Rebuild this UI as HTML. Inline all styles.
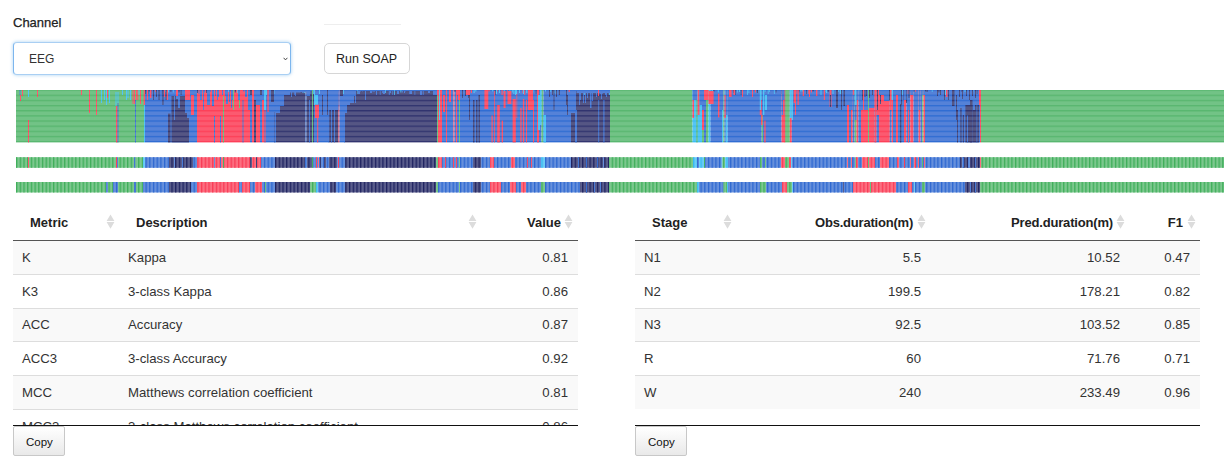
<!DOCTYPE html>
<html><head><meta charset="utf-8">
<style>
html,body{margin:0;padding:0;background:#fff;}
body{width:1224px;height:468px;overflow:hidden;position:relative;font-family:"Liberation Sans",Arial,sans-serif;color:#333;font-size:13px;}
.a{position:absolute;white-space:nowrap;}
.lbl{left:13px;top:14.5px;font-size:13px;line-height:16px;color:#222;-webkit-text-stroke:0.25px #222;}
.sel{left:13px;top:42px;width:276px;height:31px;border:1px solid #a9cff3;border-left-color:#7db6ee;border-right-color:#7db6ee;border-radius:4px;box-shadow:0 0 3px 1px rgba(102,175,233,0.35);background:#fff;}
.sel .t{position:absolute;left:15px;top:9px;font-size:12px;line-height:15px;color:#333;}
.sel .chev{position:absolute;left:269px;top:14px;}
.hr{left:324px;top:24px;width:77px;height:1px;background:#eee;}
.btn{left:324px;top:43px;width:84px;height:29px;border:1px solid #d6d6d6;border-radius:5px;background:#fff;}
.btn .t{position:absolute;left:11px;top:8px;font-size:12.5px;line-height:15px;color:#222;}
.tbl{position:absolute;top:200px;}
.th{position:absolute;top:15px;font-weight:bold;font-size:13px;line-height:16px;color:#222;}
.hline{position:absolute;left:0;right:0;top:40px;height:1px;background:#555;}
.row{position:absolute;left:0;right:0;}
.row.g{background:#f9f9f9;}
.row.b{border-top:1px solid #ddd;}
.td{position:absolute;font-size:13.2px;line-height:16px;color:#333;}
.bline{position:absolute;left:0;right:0;top:225px;height:1px;background:#111;}
.sort{position:absolute;top:14px;width:9px;height:15px;}
.copy{position:absolute;top:226px;width:50px;height:28px;border:1px solid #c8c8c8;border-radius:2px;background:linear-gradient(#fff,#e9e9e9);}
.copy .t{position:absolute;left:12px;top:8px;font-size:11.5px;line-height:15px;color:#111;}
.clip{position:absolute;left:0;right:0;top:41px;height:184px;overflow:hidden;}
</style></head>
<body>
<div class="a lbl">Channel</div>
<div class="a sel"><span class="t">EEG</span><svg class="chev" width="5" height="4" viewBox="0 0 5 4"><path d="M0.6 0.8 L2.5 2.9 L4.4 0.8" fill="none" stroke="#333" stroke-width="0.9"/></svg></div>
<div class="a hr"></div>
<div class="a btn"><span class="t">Run SOAP</span></div>

<div class="a" style="left:0;top:0;width:1224px;height:200px;"><svg class="hyp" width="1224" height="200" viewBox="0 0 1224 200"><defs><pattern id="hl" x="0" y="89.5" width="8" height="5.15" patternUnits="userSpaceOnUse"><rect x="0" y="0" width="8" height="1.3" fill="#fff"/></pattern><mask id="hm" maskUnits="userSpaceOnUse" x="0" y="0" width="1224" height="200"><rect x="0" y="90" width="1224" height="52.4" fill="url(#hl)"/></mask><pattern id="vl" x="16" y="0" width="3.7" height="10" patternUnits="userSpaceOnUse"><rect x="0" y="0" width="1.3" height="10" fill="#fff"/></pattern><mask id="vm" maskUnits="userSpaceOnUse" x="0" y="0" width="1224" height="200"><rect x="0" y="150" width="1224" height="50" fill="url(#vl)"/></mask></defs><g><rect x="16" y="90" width="128" height="52.4" fill="#72c386"/><rect x="144" y="90" width="1" height="52.4" fill="#55c5f5"/><rect x="145" y="90" width="52" height="52.4" fill="#5582d8"/><rect x="197" y="90" width="53" height="52.4" fill="#fc5a70"/><rect x="250" y="90" width="2" height="52.4" fill="#5582d8"/><rect x="252" y="90" width="2" height="52.4" fill="#fc5a70"/><rect x="254" y="90" width="2" height="52.4" fill="#555684"/><rect x="256" y="90" width="4" height="52.4" fill="#fc5a70"/><rect x="260" y="90" width="2" height="52.4" fill="#5582d8"/><rect x="262" y="90" width="2" height="52.4" fill="#fc5a70"/><rect x="264" y="90" width="2" height="52.4" fill="#5582d8"/><rect x="266" y="90" width="2" height="52.4" fill="#5582d8"/><rect x="268" y="90" width="8" height="52.4" fill="#5582d8"/><rect x="276" y="90" width="29.5" height="52.4" fill="#555684"/><rect x="305.5" y="90" width="1" height="52.4" fill="#5582d8"/><rect x="306.5" y="90" width="5.5" height="52.4" fill="#555684"/><rect x="312" y="90" width="1" height="52.4" fill="#72c386"/><rect x="313" y="90" width="1" height="52.4" fill="#555684"/><rect x="314" y="90" width="5" height="52.4" fill="#5582d8"/><rect x="319" y="90" width="10" height="52.4" fill="#5582d8"/><rect x="329" y="90" width="9.5" height="52.4" fill="#555684"/><rect x="338.5" y="90" width="1" height="52.4" fill="#fc5a70"/><rect x="339.5" y="90" width="5.5" height="52.4" fill="#5582d8"/><rect x="345" y="90" width="92" height="52.4" fill="#555684"/><rect x="437" y="90" width="1" height="52.4" fill="#72c386"/><rect x="438" y="90" width="4" height="52.4" fill="#fc5a70"/><rect x="442" y="90" width="4" height="52.4" fill="#5582d8"/><rect x="446" y="90" width="1" height="52.4" fill="#fc5a70"/><rect x="447" y="90" width="6.5" height="52.4" fill="#5582d8"/><rect x="453.5" y="90" width="1" height="52.4" fill="#fc5a70"/><rect x="454.5" y="90" width="1.5" height="52.4" fill="#5582d8"/><rect x="456" y="90" width="1" height="52.4" fill="#fc5a70"/><rect x="457" y="90" width="2" height="52.4" fill="#5582d8"/><rect x="459" y="90" width="1" height="52.4" fill="#72c386"/><rect x="460" y="90" width="81.5" height="52.4" fill="#5582d8"/><rect x="541.5" y="90" width="2" height="52.4" fill="#72c386"/><rect x="543.5" y="90" width="2.5" height="52.4" fill="#5582d8"/><rect x="546" y="90" width="25" height="52.4" fill="#5582d8"/><rect x="571" y="90" width="39" height="52.4" fill="#555684"/><rect x="610" y="90" width="82.5" height="52.4" fill="#72c386"/><rect x="692.5" y="90" width="9.5" height="52.4" fill="#55c5f5"/><rect x="702" y="90" width="2" height="52.4" fill="#72c386"/><rect x="704" y="90" width="2" height="52.4" fill="#5582d8"/><rect x="706" y="90" width="2.5" height="52.4" fill="#72c386"/><rect x="708.5" y="90" width="2" height="52.4" fill="#55c5f5"/><rect x="710.5" y="90" width="11.5" height="52.4" fill="#5582d8"/><rect x="722" y="90" width="1.3" height="52.4" fill="#55c5f5"/><rect x="723.3" y="90" width="1.2" height="52.4" fill="#72c386"/><rect x="724.5" y="90" width="1.3" height="52.4" fill="#5582d8"/><rect x="725.8" y="90" width="1.9" height="52.4" fill="#55c5f5"/><rect x="727.7" y="90" width="34" height="52.4" fill="#5582d8"/><rect x="761.7" y="90" width="1.3" height="52.4" fill="#72c386"/><rect x="763" y="90" width="18.6" height="52.4" fill="#5582d8"/><rect x="781.6" y="90" width="3.4" height="52.4" fill="#fc5a70"/><rect x="785" y="90" width="4.8" height="52.4" fill="#72c386"/><rect x="789.8" y="90" width="2" height="52.4" fill="#fc5a70"/><rect x="791.8" y="90" width="55.2" height="52.4" fill="#5582d8"/><rect x="847" y="90" width="2" height="52.4" fill="#fc5a70"/><rect x="849" y="90" width="2" height="52.4" fill="#5582d8"/><rect x="851" y="90" width="1.7" height="52.4" fill="#fc5a70"/><rect x="852.7" y="90" width="1.9" height="52.4" fill="#5582d8"/><rect x="854.6" y="90" width="1.9" height="52.4" fill="#72c386"/><rect x="856.5" y="90" width="1.9" height="52.4" fill="#fc5a70"/><rect x="858.4" y="90" width="2.6" height="52.4" fill="#5582d8"/><rect x="861" y="90" width="7" height="52.4" fill="#fc5a70"/><rect x="868" y="90" width="1" height="52.4" fill="#72c386"/><rect x="869" y="90" width="5.5" height="52.4" fill="#fc5a70"/><rect x="874.5" y="90" width="1.9" height="52.4" fill="#5582d8"/><rect x="876.4" y="90" width="2.6" height="52.4" fill="#5582d8"/><rect x="879" y="90" width="10.8" height="52.4" fill="#fc5a70"/><rect x="889.8" y="90" width="1.9" height="52.4" fill="#5582d8"/><rect x="891.7" y="90" width="1.3" height="52.4" fill="#fc5a70"/><rect x="893" y="90" width="3" height="52.4" fill="#5582d8"/><rect x="896" y="90" width="2" height="52.4" fill="#fc5a70"/><rect x="898" y="90" width="6" height="52.4" fill="#5582d8"/><rect x="904" y="90" width="2.4" height="52.4" fill="#fc5a70"/><rect x="906.4" y="90" width="3.9" height="52.4" fill="#5582d8"/><rect x="910.3" y="90" width="3.2" height="52.4" fill="#fc5a70"/><rect x="913.5" y="90" width="5.1" height="52.4" fill="#5582d8"/><rect x="918.6" y="90" width="1.9" height="52.4" fill="#fc5a70"/><rect x="920.5" y="90" width="1.7" height="52.4" fill="#5582d8"/><rect x="922.2" y="90" width="1.3" height="52.4" fill="#72c386"/><rect x="923.5" y="90" width="1.5" height="52.4" fill="#fc5a70"/><rect x="925" y="90" width="55" height="52.4" fill="#5582d8"/><rect x="980" y="90" width="1" height="52.4" fill="#fc5a70"/><rect x="981" y="90" width="243" height="52.4" fill="#72c386"/><rect x="145" y="90" width="1.2" height="4" fill="#555684"/><rect x="147.2" y="90" width="1.2" height="4" fill="#555684"/><rect x="148.9" y="90" width="0.8" height="1.5" fill="#555684"/><rect x="150.2" y="90" width="1.2" height="4" fill="#555684"/><rect x="155.3" y="90" width="0.8" height="2" fill="#fc5a70"/><rect x="161.9" y="90" width="0.8" height="4" fill="#555684"/><rect x="165" y="90" width="1.2" height="2" fill="#55c5f5"/><rect x="167.7" y="90" width="1.2" height="2.5" fill="#55c5f5"/><rect x="170.4" y="90" width="1" height="2" fill="#555684"/><rect x="172.9" y="90" width="0.8" height="2.5" fill="#55c5f5"/><rect x="178.4" y="90" width="1.2" height="2.5" fill="#555684"/><rect x="180.6" y="90" width="1" height="5" fill="#555684"/><rect x="197" y="90" width="1" height="3" fill="#555684"/><rect x="198.5" y="90" width="1" height="4" fill="#5582d8"/><rect x="200.5" y="90" width="0.8" height="2.5" fill="#5582d8"/><rect x="202.8" y="90" width="0.8" height="3" fill="#5582d8"/><rect x="204.1" y="90" width="1" height="2.5" fill="#5582d8"/><rect x="206.1" y="90" width="1.2" height="3" fill="#555684"/><rect x="210.3" y="90" width="0.8" height="2" fill="#5582d8"/><rect x="213.1" y="90" width="1" height="2" fill="#55c5f5"/><rect x="224.9" y="90" width="1.2" height="3" fill="#55c5f5"/><rect x="228.1" y="90" width="0.8" height="2" fill="#55c5f5"/><rect x="229.4" y="90" width="0.8" height="1.5" fill="#5582d8"/><rect x="230.7" y="90" width="1.2" height="1.5" fill="#555684"/><rect x="233.4" y="90" width="0.8" height="2" fill="#55c5f5"/><rect x="234.7" y="90" width="1.2" height="2.5" fill="#555684"/><rect x="236.9" y="90" width="0.8" height="3" fill="#55c5f5"/><rect x="238.7" y="90" width="1" height="2" fill="#5582d8"/><rect x="243.2" y="90" width="1.2" height="1.5" fill="#5582d8"/><rect x="245.9" y="90" width="1" height="4" fill="#5582d8"/><rect x="254" y="90" width="2" height="1" fill="#5582d8"/><rect x="266" y="90" width="1" height="5" fill="#55c5f5"/><rect x="272.5" y="90" width="0.8" height="2" fill="#55c5f5"/><rect x="273.8" y="90" width="1" height="4" fill="#55c5f5"/><rect x="276" y="90" width="29.5" height="1" fill="#5582d8"/><rect x="276" y="90" width="1.2" height="5" fill="#5582d8"/><rect x="280.4" y="90" width="0.8" height="5" fill="#5582d8"/><rect x="281.7" y="90" width="1.2" height="3" fill="#5582d8"/><rect x="284.4" y="90" width="0.8" height="2" fill="#5582d8"/><rect x="294" y="90" width="0.8" height="5" fill="#5582d8"/><rect x="299.8" y="90" width="0.8" height="2.5" fill="#5582d8"/><rect x="302.1" y="90" width="1" height="3" fill="#5582d8"/><rect x="303.6" y="90" width="1.2" height="3" fill="#55c5f5"/><rect x="306.5" y="90" width="5.5" height="1" fill="#5582d8"/><rect x="306.5" y="90" width="1.2" height="3" fill="#5582d8"/><rect x="310.5" y="90" width="0.8" height="4" fill="#5582d8"/><rect x="313" y="90" width="1" height="1" fill="#5582d8"/><rect x="313" y="90" width="0.8" height="4" fill="#55c5f5"/><rect x="314" y="90" width="1.2" height="2" fill="#fc5a70"/><rect x="319" y="90" width="1" height="4" fill="#55c5f5"/><rect x="329" y="90" width="9.5" height="1" fill="#5582d8"/><rect x="330.7" y="90" width="1" height="1.5" fill="#55c5f5"/><rect x="332.7" y="90" width="1" height="2" fill="#55c5f5"/><rect x="337.8" y="90" width="0.7" height="2.5" fill="#5582d8"/><rect x="342.7" y="90" width="1.2" height="4" fill="#55c5f5"/><rect x="345" y="90" width="92" height="1" fill="#5582d8"/><rect x="345" y="90" width="1" height="2.5" fill="#5582d8"/><rect x="347.5" y="90" width="1" height="4" fill="#55c5f5"/><rect x="349.5" y="90" width="1.2" height="2.5" fill="#5582d8"/><rect x="352.2" y="90" width="0.8" height="2" fill="#5582d8"/><rect x="353.5" y="90" width="1" height="2" fill="#5582d8"/><rect x="357.5" y="90" width="1" height="4" fill="#55c5f5"/><rect x="360" y="90" width="1" height="1.5" fill="#5582d8"/><rect x="362" y="90" width="0.8" height="1.5" fill="#5582d8"/><rect x="365.1" y="90" width="0.8" height="1.5" fill="#55c5f5"/><rect x="371.6" y="90" width="0.8" height="2" fill="#5582d8"/><rect x="373.4" y="90" width="1.2" height="2" fill="#5582d8"/><rect x="379.8" y="90" width="0.8" height="5" fill="#5582d8"/><rect x="382.1" y="90" width="1" height="3" fill="#5582d8"/><rect x="384.6" y="90" width="1.2" height="3" fill="#55c5f5"/><rect x="388.8" y="90" width="1" height="5" fill="#5582d8"/><rect x="392.3" y="90" width="0.8" height="5" fill="#5582d8"/><rect x="394.1" y="90" width="0.8" height="5" fill="#55c5f5"/><rect x="400.4" y="90" width="1" height="2.5" fill="#55c5f5"/><rect x="401.9" y="90" width="1" height="2.5" fill="#5582d8"/><rect x="405.2" y="90" width="0.8" height="1.5" fill="#5582d8"/><rect x="409.3" y="90" width="1.2" height="4" fill="#5582d8"/><rect x="414.5" y="90" width="0.8" height="5" fill="#5582d8"/><rect x="422.7" y="90" width="1" height="5" fill="#5582d8"/><rect x="438" y="90" width="0.8" height="1.5" fill="#5582d8"/><rect x="454.5" y="90" width="1" height="2" fill="#555684"/><rect x="457" y="90" width="1" height="5" fill="#fc5a70"/><rect x="470.8" y="90" width="1.2" height="3" fill="#fc5a70"/><rect x="473.5" y="90" width="1.2" height="3" fill="#55c5f5"/><rect x="475.2" y="90" width="1.2" height="1.5" fill="#55c5f5"/><rect x="488.5" y="90" width="1.2" height="1.5" fill="#fc5a70"/><rect x="492.2" y="90" width="1" height="1.5" fill="#55c5f5"/><rect x="494.7" y="90" width="1" height="5" fill="#555684"/><rect x="496.7" y="90" width="1" height="1.5" fill="#fc5a70"/><rect x="501.5" y="90" width="1.2" height="5" fill="#fc5a70"/><rect x="503.7" y="90" width="1" height="3" fill="#55c5f5"/><rect x="507.2" y="90" width="0.8" height="1.5" fill="#fc5a70"/><rect x="509.5" y="90" width="0.8" height="2.5" fill="#55c5f5"/><rect x="511.8" y="90" width="1" height="2.5" fill="#55c5f5"/><rect x="513.3" y="90" width="1.2" height="4" fill="#55c5f5"/><rect x="515" y="90" width="1.2" height="5" fill="#55c5f5"/><rect x="522.4" y="90" width="0.8" height="3" fill="#fc5a70"/><rect x="524.2" y="90" width="1" height="5" fill="#fc5a70"/><rect x="526.2" y="90" width="1.2" height="3" fill="#55c5f5"/><rect x="528.9" y="90" width="1" height="5" fill="#555684"/><rect x="532.2" y="90" width="1.2" height="2.5" fill="#55c5f5"/><rect x="535.7" y="90" width="0.8" height="4" fill="#555684"/><rect x="537.5" y="90" width="0.8" height="4" fill="#555684"/><rect x="545" y="90" width="1" height="1.5" fill="#55c5f5"/><rect x="550.4" y="90" width="0.8" height="2" fill="#55c5f5"/><rect x="552.2" y="90" width="1.2" height="2.5" fill="#555684"/><rect x="553.9" y="90" width="0.8" height="3" fill="#55c5f5"/><rect x="555.7" y="90" width="0.8" height="4" fill="#55c5f5"/><rect x="558.8" y="90" width="0.8" height="5" fill="#555684"/><rect x="568.6" y="90" width="1.2" height="2" fill="#fc5a70"/><rect x="571" y="90" width="39" height="1" fill="#5582d8"/><rect x="571" y="90" width="1.2" height="1.5" fill="#5582d8"/><rect x="575.2" y="90" width="0.8" height="2" fill="#5582d8"/><rect x="576.5" y="90" width="1.2" height="3" fill="#5582d8"/><rect x="582.9" y="90" width="0.8" height="3" fill="#5582d8"/><rect x="584.2" y="90" width="0.8" height="5" fill="#55c5f5"/><rect x="585.5" y="90" width="1" height="3" fill="#5582d8"/><rect x="587" y="90" width="1" height="2.5" fill="#55c5f5"/><rect x="589" y="90" width="1.2" height="1.5" fill="#5582d8"/><rect x="591.7" y="90" width="1.2" height="3" fill="#5582d8"/><rect x="593.9" y="90" width="0.8" height="2" fill="#5582d8"/><rect x="597.5" y="90" width="1.2" height="2" fill="#55c5f5"/><rect x="599.7" y="90" width="1.2" height="4" fill="#5582d8"/><rect x="601.9" y="90" width="0.8" height="4" fill="#5582d8"/><rect x="605" y="90" width="1" height="5" fill="#5582d8"/><rect x="608.8" y="90" width="1" height="5" fill="#55c5f5"/><rect x="696.5" y="90" width="0.8" height="1.5" fill="#72c386"/><rect x="697.8" y="90" width="1" height="1.5" fill="#5582d8"/><rect x="704" y="90" width="1" height="5" fill="#55c5f5"/><rect x="710.5" y="90" width="0.8" height="5" fill="#55c5f5"/><rect x="711.8" y="90" width="1.2" height="5" fill="#55c5f5"/><rect x="713.5" y="90" width="1" height="1.5" fill="#555684"/><rect x="717.8" y="90" width="1" height="2.5" fill="#55c5f5"/><rect x="733" y="90" width="1" height="3" fill="#555684"/><rect x="734.5" y="90" width="1.2" height="5" fill="#555684"/><rect x="737.2" y="90" width="0.8" height="2.5" fill="#55c5f5"/><rect x="739" y="90" width="1.2" height="2" fill="#55c5f5"/><rect x="740.7" y="90" width="0.8" height="5" fill="#555684"/><rect x="747.2" y="90" width="0.8" height="5" fill="#55c5f5"/><rect x="748.5" y="90" width="0.8" height="3" fill="#55c5f5"/><rect x="754.9" y="90" width="1" height="2.5" fill="#fc5a70"/><rect x="756.9" y="90" width="1.2" height="3" fill="#555684"/><rect x="758.6" y="90" width="0.8" height="2.5" fill="#55c5f5"/><rect x="759.9" y="90" width="1" height="2.5" fill="#555684"/><rect x="763" y="90" width="1.2" height="1.5" fill="#55c5f5"/><rect x="764.7" y="90" width="0.8" height="2" fill="#55c5f5"/><rect x="767.8" y="90" width="0.8" height="4" fill="#55c5f5"/><rect x="769.1" y="90" width="0.8" height="2" fill="#55c5f5"/><rect x="773.9" y="90" width="0.8" height="4" fill="#55c5f5"/><rect x="775.7" y="90" width="0.8" height="2.5" fill="#555684"/><rect x="781.6" y="90" width="1.2" height="4" fill="#555684"/><rect x="783.3" y="90" width="0.8" height="3" fill="#55c5f5"/><rect x="789.8" y="90" width="1" height="3" fill="#5582d8"/><rect x="791.8" y="90" width="1.2" height="2" fill="#55c5f5"/><rect x="794.5" y="90" width="1" height="2.5" fill="#fc5a70"/><rect x="796.5" y="90" width="0.8" height="4" fill="#fc5a70"/><rect x="798.3" y="90" width="1" height="2.5" fill="#555684"/><rect x="800.3" y="90" width="1.2" height="1.5" fill="#55c5f5"/><rect x="802" y="90" width="1" height="1.5" fill="#55c5f5"/><rect x="806" y="90" width="0.8" height="4" fill="#555684"/><rect x="808.3" y="90" width="1" height="4" fill="#fc5a70"/><rect x="810.8" y="90" width="1.2" height="2.5" fill="#fc5a70"/><rect x="812.5" y="90" width="1.2" height="1.5" fill="#555684"/><rect x="816.2" y="90" width="1" height="1.5" fill="#55c5f5"/><rect x="820.5" y="90" width="1" height="5" fill="#55c5f5"/><rect x="824.3" y="90" width="1.2" height="2" fill="#55c5f5"/><rect x="826" y="90" width="1.2" height="3" fill="#55c5f5"/><rect x="827.7" y="90" width="1" height="2" fill="#555684"/><rect x="830.2" y="90" width="0.8" height="4" fill="#555684"/><rect x="832.5" y="90" width="1" height="4" fill="#55c5f5"/><rect x="837.7" y="90" width="1" height="2" fill="#55c5f5"/><rect x="839.7" y="90" width="1.2" height="4" fill="#55c5f5"/><rect x="841.4" y="90" width="0.8" height="3" fill="#55c5f5"/><rect x="847" y="90" width="0.8" height="2.5" fill="#55c5f5"/><rect x="852.7" y="90" width="1.2" height="5" fill="#fc5a70"/><rect x="856.5" y="90" width="1.2" height="4" fill="#55c5f5"/><rect x="858.4" y="90" width="0.8" height="1.5" fill="#55c5f5"/><rect x="871.3" y="90" width="1" height="4" fill="#555684"/><rect x="873.3" y="90" width="0.8" height="3" fill="#5582d8"/><rect x="876.4" y="90" width="1" height="2" fill="#555684"/><rect x="879" y="90" width="1.2" height="3" fill="#5582d8"/><rect x="887.4" y="90" width="0.8" height="4" fill="#55c5f5"/><rect x="889.8" y="90" width="1" height="2.5" fill="#55c5f5"/><rect x="891.7" y="90" width="1" height="1.5" fill="#55c5f5"/><rect x="902" y="90" width="0.8" height="5" fill="#55c5f5"/><rect x="904" y="90" width="1.2" height="1.5" fill="#5582d8"/><rect x="907.7" y="90" width="0.8" height="4" fill="#fc5a70"/><rect x="910.3" y="90" width="0.8" height="2.5" fill="#5582d8"/><rect x="913.5" y="90" width="0.8" height="2" fill="#555684"/><rect x="915.3" y="90" width="0.8" height="2" fill="#fc5a70"/><rect x="925" y="90" width="1" height="1.5" fill="#555684"/><rect x="926.5" y="90" width="1.2" height="2" fill="#555684"/><rect x="931.8" y="90" width="0.8" height="2" fill="#55c5f5"/><rect x="938.3" y="90" width="1.2" height="2.5" fill="#555684"/><rect x="945" y="90" width="1" height="5" fill="#55c5f5"/><rect x="959" y="90" width="1" height="2" fill="#555684"/><rect x="961.5" y="90" width="0.8" height="2" fill="#555684"/><rect x="964.5" y="90" width="1" height="2" fill="#55c5f5"/><rect x="972.2" y="90" width="1.2" height="1.5" fill="#55c5f5"/><rect x="976.7" y="90" width="0.8" height="4" fill="#555684"/><rect x="979" y="90" width="0.8" height="1.5" fill="#555684"/><rect x="19.5" y="90" width="1" height="5" fill="#5582d8"/><rect x="20" y="95" width="1" height="6" fill="#fc5a70"/><rect x="22" y="90" width="1" height="6" fill="#fc5a70"/><rect x="28" y="90" width="1" height="7" fill="#55c5f5"/><rect x="28" y="120" width="1" height="22.4" fill="#fc5a70"/><rect x="37" y="90" width="1" height="7" fill="#fc5a70"/><rect x="81" y="90" width="1" height="5" fill="#fc5a70"/><rect x="89" y="90" width="1" height="23" fill="#fc5a70"/><rect x="96" y="90" width="1" height="25" fill="#fc5a70"/><rect x="101" y="90" width="1" height="13" fill="#55c5f5"/><rect x="104" y="90" width="1" height="10" fill="#55c5f5"/><rect x="106" y="90" width="1" height="15" fill="#55c5f5"/><rect x="107" y="90" width="1" height="8" fill="#fc5a70"/><rect x="109" y="90" width="1" height="13" fill="#55c5f5"/><rect x="116" y="106" width="1.5" height="36.4" fill="#fc5a70"/><rect x="115.5" y="92" width="1" height="14" fill="#55c5f5"/><rect x="117.5" y="103" width="1" height="39.4" fill="#5582d8"/><rect x="117.5" y="92" width="1" height="11" fill="#55c5f5"/><rect x="122" y="90" width="1" height="5" fill="#55c5f5"/><rect x="126" y="90" width="1" height="10" fill="#55c5f5"/><rect x="127.5" y="90" width="1" height="8" fill="#55c5f5"/><rect x="130" y="90" width="1" height="10" fill="#55c5f5"/><rect x="132.5" y="90" width="1" height="14" fill="#fc5a70"/><rect x="134" y="90" width="1" height="14" fill="#fc5a70"/><rect x="136" y="90" width="1" height="10" fill="#fc5a70"/><rect x="135" y="100" width="1" height="42.4" fill="#5582d8"/><rect x="137.3" y="90" width="1" height="10" fill="#fc5a70"/><rect x="138.5" y="90" width="1" height="5" fill="#55c5f5"/><rect x="140" y="90" width="1" height="14" fill="#fc5a70"/><rect x="143.7" y="90" width="1.3" height="15" fill="#fc5a70"/><rect x="147" y="90" width="1" height="10" fill="#fc5a70"/><rect x="150" y="90" width="1.4" height="8" fill="#fc5a70"/><rect x="153" y="90" width="1" height="10" fill="#555684"/><rect x="156" y="90" width="1" height="7" fill="#555684"/><rect x="158.4" y="90" width="1.3" height="10" fill="#555684"/><rect x="162.3" y="90" width="1.3" height="15" fill="#555684"/><rect x="164" y="90" width="1" height="7" fill="#fc5a70"/><rect x="165.5" y="90" width="1.3" height="10" fill="#555684"/><rect x="166.8" y="90" width="1.2" height="10" fill="#fc5a70"/><rect x="168" y="113.6" width="2.5" height="28.8" fill="#555684"/><rect x="171.5" y="96" width="4.5" height="46.4" fill="#555684"/><rect x="176" y="99" width="2" height="43.4" fill="#555684"/><rect x="178" y="108" width="2" height="34.4" fill="#555684"/><rect x="180" y="96" width="5" height="46.4" fill="#555684"/><rect x="185" y="113" width="2" height="29.4" fill="#555684"/><rect x="187" y="118" width="2" height="24.4" fill="#555684"/><rect x="174" y="96" width="1" height="24" fill="#5582d8"/><rect x="176" y="90" width="2" height="6" fill="#fc5a70"/><rect x="185" y="90" width="5" height="10" fill="#fc5a70"/><rect x="191" y="95" width="3" height="20" fill="#fc5a70"/><rect x="200" y="90" width="2" height="10" fill="#5582d8"/><rect x="203" y="90" width="1" height="20" fill="#5582d8"/><rect x="207" y="90" width="3" height="15" fill="#5582d8"/><rect x="212" y="90" width="2" height="16" fill="#5582d8"/><rect x="214" y="116" width="1" height="26.4" fill="#5582d8"/><rect x="215" y="90" width="1" height="6" fill="#5582d8"/><rect x="218" y="90" width="1" height="7" fill="#5582d8"/><rect x="222" y="90" width="1" height="5" fill="#5582d8"/><rect x="225" y="90" width="1" height="6" fill="#5582d8"/><rect x="217" y="90" width="1" height="10" fill="#5582d8"/><rect x="220" y="116" width="1" height="26.4" fill="#5582d8"/><rect x="223" y="96" width="1" height="46.4" fill="#72c386"/><rect x="226" y="90" width="2" height="14" fill="#5582d8"/><rect x="229" y="90" width="1" height="12" fill="#5582d8"/><rect x="232" y="90" width="1.5" height="10" fill="#5582d8"/><rect x="231" y="90" width="1" height="18" fill="#5582d8"/><rect x="233" y="90" width="1" height="20" fill="#72c386"/><rect x="238" y="90" width="2" height="10" fill="#5582d8"/><rect x="239" y="100" width="1" height="8" fill="#72c386"/><rect x="242.5" y="100" width="1" height="42.4" fill="#5582d8"/><rect x="245" y="90" width="2" height="7" fill="#5582d8"/><rect x="248" y="90" width="2" height="20" fill="#5582d8"/><rect x="250" y="90" width="2" height="5" fill="#555684"/><rect x="254" y="90" width="2" height="10" fill="#5582d8"/><rect x="256" y="90" width="4" height="15" fill="#5582d8"/><rect x="260" y="90" width="2" height="5" fill="#555684"/><rect x="262" y="90" width="2" height="10" fill="#5582d8"/><rect x="264" y="90" width="2" height="20" fill="#55c5f5"/><rect x="267.4" y="90" width="1.3" height="22" fill="#fc5a70"/><rect x="271" y="90" width="3" height="12" fill="#555684"/><rect x="274.3" y="112" width="0.7" height="30.4" fill="#555684"/><rect x="264.9" y="90" width="0.8" height="20" fill="#55c5f5"/><rect x="264.5" y="110" width="1" height="32.4" fill="#fc5a70"/><rect x="274.5" y="90" width="1" height="52.4" fill="#5582d8"/><rect x="276" y="90" width="4" height="23" fill="#5582d8"/><rect x="280" y="90" width="4" height="16" fill="#5582d8"/><rect x="284" y="90" width="6" height="5" fill="#5582d8"/><rect x="290" y="90" width="10" height="2.5" fill="#5582d8"/><rect x="291" y="92" width="1" height="5" fill="#5582d8"/><rect x="295" y="92" width="1" height="4" fill="#5582d8"/><rect x="300" y="90" width="6" height="2" fill="#5582d8"/><rect x="306.5" y="90" width="3.5" height="6" fill="#5582d8"/><rect x="309" y="100" width="1" height="42.4" fill="#5582d8"/><rect x="314" y="90" width="1" height="15" fill="#55c5f5"/><rect x="315" y="104.6" width="4" height="13.4" fill="#fc5a70"/><rect x="315" y="95" width="3" height="9.6" fill="#55c5f5"/><rect x="317.2" y="118" width="1" height="24.4" fill="#fc5a70"/><rect x="322" y="95" width="1" height="20" fill="#555684"/><rect x="327" y="90" width="1" height="25" fill="#555684"/><rect x="329" y="90" width="9.5" height="20" fill="#5582d8"/><rect x="328.3" y="110" width="1" height="32.4" fill="#5582d8"/><rect x="331" y="110" width="1" height="32.4" fill="#5582d8"/><rect x="334" y="110" width="1" height="32.4" fill="#5582d8"/><rect x="338.5" y="90" width="1" height="15" fill="#5582d8"/><rect x="340" y="90" width="3" height="6" fill="#555684"/><rect x="344" y="90" width="1" height="52.4" fill="#5582d8"/><rect x="345" y="90" width="2" height="23" fill="#5582d8"/><rect x="347" y="90" width="3" height="15" fill="#5582d8"/><rect x="350" y="90" width="4" height="13" fill="#5582d8"/><rect x="354" y="90" width="2" height="6" fill="#5582d8"/><rect x="355" y="90" width="1" height="13" fill="#5582d8"/><rect x="358" y="90" width="2" height="4" fill="#5582d8"/><rect x="365" y="90" width="1" height="10" fill="#5582d8"/><rect x="370" y="90" width="2" height="3" fill="#5582d8"/><rect x="376" y="90" width="1" height="5" fill="#5582d8"/><rect x="383" y="90" width="2" height="4" fill="#5582d8"/><rect x="390" y="90" width="1" height="3" fill="#5582d8"/><rect x="397" y="90" width="2" height="4" fill="#5582d8"/><rect x="404" y="90" width="1" height="3" fill="#5582d8"/><rect x="410" y="90" width="2" height="4" fill="#5582d8"/><rect x="420" y="90" width="2" height="5" fill="#5582d8"/><rect x="428" y="90" width="2" height="3" fill="#5582d8"/><rect x="433" y="90" width="4" height="5" fill="#5582d8"/><rect x="437" y="90" width="3" height="5" fill="#fc5a70"/><rect x="439" y="90" width="1" height="30" fill="#55c5f5"/><rect x="443" y="95" width="2" height="17" fill="#fc5a70"/><rect x="449" y="90" width="2" height="12" fill="#fc5a70"/><rect x="458" y="90" width="2" height="10" fill="#fc5a70"/><rect x="462" y="90" width="1" height="8" fill="#555684"/><rect x="465" y="90" width="1" height="6" fill="#555684"/><rect x="468" y="90" width="1" height="8" fill="#555684"/><rect x="466" y="90" width="4" height="5" fill="#fc5a70"/><rect x="469" y="95" width="1" height="25" fill="#555684"/><rect x="473" y="100" width="1.5" height="42.4" fill="#555684"/><rect x="476" y="100" width="1.5" height="42.4" fill="#555684"/><rect x="478.5" y="95" width="1.5" height="47.4" fill="#555684"/><rect x="484.4" y="90" width="3.9" height="19" fill="#fc5a70"/><rect x="491.5" y="115.5" width="1.2" height="26.9" fill="#fc5a70"/><rect x="494" y="91" width="0.8" height="51.4" fill="#fc5a70"/><rect x="497.2" y="105" width="2.6" height="37.4" fill="#fc5a70"/><rect x="501.7" y="120.6" width="1.3" height="21.8" fill="#fc5a70"/><rect x="503.6" y="91" width="2" height="17" fill="#fc5a70"/><rect x="507.5" y="91" width="3.8" height="13" fill="#fc5a70"/><rect x="512.6" y="99" width="3.2" height="43.4" fill="#fc5a70"/><rect x="516.5" y="91" width="0.7" height="27" fill="#fc5a70"/><rect x="520.3" y="108" width="1.3" height="34.4" fill="#fc5a70"/><rect x="522.9" y="99" width="1.3" height="43.4" fill="#fc5a70"/><rect x="496" y="90" width="1" height="4" fill="#55c5f5"/><rect x="499" y="90" width="1" height="3" fill="#55c5f5"/><rect x="516" y="90" width="1" height="4" fill="#55c5f5"/><rect x="519" y="90" width="1" height="3" fill="#55c5f5"/><rect x="523" y="90" width="1" height="4" fill="#55c5f5"/><rect x="526" y="100" width="1" height="42.4" fill="#fc5a70"/><rect x="528" y="90" width="5" height="20" fill="#fc5a70"/><rect x="533" y="100" width="1" height="42.4" fill="#fc5a70"/><rect x="537" y="90" width="2" height="52.4" fill="#fc5a70"/><rect x="538" y="95" width="2" height="35" fill="#55c5f5"/><rect x="540" y="90" width="1.5" height="35" fill="#55c5f5"/><rect x="543.5" y="115" width="2.5" height="27.4" fill="#55c5f5"/><rect x="549" y="90" width="1" height="7" fill="#555684"/><rect x="552" y="90" width="1" height="5" fill="#555684"/><rect x="556" y="90" width="1" height="7" fill="#555684"/><rect x="559" y="90" width="1" height="5" fill="#555684"/><rect x="553.5" y="90" width="1" height="20" fill="#555684"/><rect x="566" y="90" width="1" height="15" fill="#555684"/><rect x="567" y="95" width="1" height="20" fill="#555684"/><rect x="571" y="90" width="5" height="23" fill="#5582d8"/><rect x="575" y="110" width="2" height="32.4" fill="#5582d8"/><rect x="577" y="90" width="33" height="3" fill="#5582d8"/><rect x="580" y="93" width="1" height="7" fill="#5582d8"/><rect x="583" y="93" width="1" height="10" fill="#5582d8"/><rect x="587" y="93" width="1" height="5" fill="#5582d8"/><rect x="592" y="93" width="1" height="8" fill="#5582d8"/><rect x="596" y="93" width="1" height="4" fill="#5582d8"/><rect x="601" y="93" width="1" height="6" fill="#5582d8"/><rect x="606" y="93" width="1" height="4" fill="#5582d8"/><rect x="579" y="90" width="1" height="15" fill="#5582d8"/><rect x="585" y="90" width="1" height="13" fill="#5582d8"/><rect x="590" y="90" width="1.5" height="18" fill="#5582d8"/><rect x="598.2" y="100" width="1" height="42.4" fill="#5582d8"/><rect x="603.3" y="100" width="1.2" height="42.4" fill="#5582d8"/><rect x="598" y="90" width="1" height="6" fill="#fc5a70"/><rect x="692.5" y="100" width="1.5" height="18" fill="#fc5a70"/><rect x="692.5" y="90" width="1.5" height="10" fill="#5582d8"/><rect x="694" y="90" width="3" height="10" fill="#5582d8"/><rect x="696.3" y="100" width="1.3" height="42.4" fill="#72c386"/><rect x="697.6" y="90" width="1.9" height="25" fill="#fc5a70"/><rect x="699.5" y="90" width="2.5" height="15" fill="#5582d8"/><rect x="702" y="110" width="2" height="20" fill="#fc5a70"/><rect x="702" y="90" width="2" height="20" fill="#5582d8"/><rect x="704" y="90" width="4.5" height="10" fill="#fc5a70"/><rect x="708.5" y="91" width="5.1" height="13" fill="#fc5a70"/><rect x="718" y="93.7" width="1.4" height="23.7" fill="#fc5a70"/><rect x="722" y="90" width="1.3" height="20" fill="#5582d8"/><rect x="724.5" y="95" width="1.3" height="23" fill="#fc5a70"/><rect x="725.8" y="90" width="1.9" height="25" fill="#5582d8"/><rect x="729" y="90" width="2.6" height="7" fill="#fc5a70"/><rect x="733.5" y="90" width="1.5" height="5" fill="#fc5a70"/><rect x="742" y="90" width="1" height="7" fill="#fc5a70"/><rect x="752" y="90" width="1" height="7" fill="#fc5a70"/><rect x="759.8" y="90" width="1.9" height="20" fill="#55c5f5"/><rect x="759.8" y="110" width="1.9" height="5" fill="#fc5a70"/><rect x="761" y="100" width="1.4" height="25" fill="#fc5a70"/><rect x="761.7" y="90" width="1.3" height="25" fill="#5582d8"/><rect x="763" y="90" width="1.3" height="25" fill="#55c5f5"/><rect x="764.3" y="120.6" width="1.3" height="21.8" fill="#fc5a70"/><rect x="765" y="95" width="2" height="15" fill="#55c5f5"/><rect x="781.6" y="90" width="3.4" height="25" fill="#5582d8"/><rect x="783" y="100" width="1.5" height="15" fill="#fc5a70"/><rect x="784.5" y="90" width="0.7" height="52.4" fill="#fc5a70"/><rect x="789.6" y="90" width="2.2" height="28" fill="#55c5f5"/><rect x="791.8" y="90" width="1.2" height="30" fill="#55c5f5"/><rect x="793.7" y="90" width="1.9" height="13" fill="#fc5a70"/><rect x="795" y="90" width="1" height="25" fill="#fc5a70"/><rect x="797.5" y="90" width="1.3" height="15" fill="#fc5a70"/><rect x="802.7" y="90" width="1.3" height="6" fill="#fc5a70"/><rect x="809" y="90" width="1" height="7" fill="#fc5a70"/><rect x="816" y="90" width="1.4" height="6" fill="#fc5a70"/><rect x="823.8" y="90" width="1.2" height="10" fill="#fc5a70"/><rect x="829.6" y="90" width="1.9" height="17" fill="#fc5a70"/><rect x="830" y="95" width="1" height="12" fill="#555684"/><rect x="836" y="90" width="2" height="18" fill="#555684"/><rect x="841" y="90" width="1" height="20" fill="#555684"/><rect x="843.5" y="90" width="1.5" height="16" fill="#555684"/><rect x="847" y="90" width="2" height="15" fill="#5582d8"/><rect x="851" y="90" width="1.7" height="20" fill="#5582d8"/><rect x="854.6" y="90" width="1.9" height="30" fill="#5582d8"/><rect x="855" y="90" width="1.5" height="15" fill="#55c5f5"/><rect x="856.5" y="90" width="1.9" height="10" fill="#5582d8"/><rect x="861" y="90" width="7" height="20" fill="#5582d8"/><rect x="862" y="90" width="1" height="10" fill="#555684"/><rect x="864.5" y="90" width="1" height="7" fill="#555684"/><rect x="863" y="90" width="1" height="20" fill="#fc5a70"/><rect x="869" y="90" width="5.5" height="18" fill="#5582d8"/><rect x="866" y="90" width="1" height="6" fill="#555684"/><rect x="869" y="90" width="1" height="8" fill="#555684"/><rect x="872" y="90" width="1" height="5" fill="#555684"/><rect x="874.5" y="90" width="1.9" height="52.4" fill="#fc5a70"/><rect x="876.4" y="90" width="2.6" height="25" fill="#fc5a70"/><rect x="877" y="90" width="1" height="20" fill="#555684"/><rect x="880" y="90" width="1" height="14" fill="#555684"/><rect x="879" y="90" width="10.8" height="5" fill="#5582d8"/><rect x="884" y="95" width="5.8" height="6" fill="#5582d8"/><rect x="889.8" y="90" width="1.9" height="20" fill="#fc5a70"/><rect x="889" y="90" width="1" height="10" fill="#555684"/><rect x="892" y="90" width="1" height="7" fill="#555684"/><rect x="891.7" y="90" width="1.3" height="10" fill="#55c5f5"/><rect x="896" y="90" width="2" height="5" fill="#5582d8"/><rect x="900" y="104" width="1.3" height="38.4" fill="#555684"/><rect x="901" y="90" width="1" height="15" fill="#555684"/><rect x="903.5" y="90" width="1" height="10" fill="#555684"/><rect x="906" y="90" width="1" height="13" fill="#555684"/><rect x="908.5" y="90" width="1" height="8" fill="#555684"/><rect x="904" y="90" width="2.4" height="10" fill="#5582d8"/><rect x="908" y="110" width="1" height="32.4" fill="#fc5a70"/><rect x="910.3" y="90" width="3.2" height="5" fill="#5582d8"/><rect x="918.6" y="90" width="1.9" height="20" fill="#5582d8"/><rect x="922.2" y="90" width="1.3" height="5" fill="#5582d8"/><rect x="923.5" y="90" width="1.5" height="5" fill="#5582d8"/><rect x="937" y="90" width="1" height="6" fill="#555684"/><rect x="940" y="90" width="1" height="5" fill="#555684"/><rect x="944" y="90" width="1" height="10" fill="#555684"/><rect x="946" y="90" width="1.5" height="7" fill="#fc5a70"/><rect x="948" y="90" width="1" height="10" fill="#555684"/><rect x="952" y="90" width="2.5" height="16" fill="#555684"/><rect x="956" y="95" width="1" height="25" fill="#555684"/><rect x="957" y="110" width="1" height="32.4" fill="#555684"/><rect x="960.3" y="108" width="1.3" height="34.4" fill="#555684"/><rect x="962.8" y="115" width="1.2" height="27.4" fill="#555684"/><rect x="965.4" y="105" width="7.1" height="37.4" fill="#555684"/><rect x="973" y="110" width="2" height="32.4" fill="#555684"/><rect x="967" y="115.5" width="1" height="26.9" fill="#5582d8"/><rect x="970" y="100" width="2.5" height="42.4" fill="#555684"/><rect x="975" y="105" width="4" height="37.4" fill="#555684"/><rect x="976.5" y="105" width="0.8" height="37.4" fill="#5582d8"/><rect x="959" y="90" width="1" height="7" fill="#555684"/><rect x="962" y="90" width="1" height="9" fill="#555684"/><rect x="966" y="90" width="1" height="6" fill="#555684"/><rect x="969" y="90" width="1" height="10" fill="#555684"/><rect x="972" y="90" width="1" height="6" fill="#555684"/><rect x="975" y="90" width="1" height="8" fill="#555684"/><rect x="979" y="90" width="1" height="15" fill="#fc5a70"/></g><g mask="url(#hm)"><rect x="16" y="90" width="128" height="52.4" fill="#58b66f"/><rect x="144" y="90" width="1" height="52.4" fill="#3bbcf2"/><rect x="145" y="90" width="52" height="52.4" fill="#2f6cd2"/><rect x="197" y="90" width="53" height="52.4" fill="#fc4058"/><rect x="250" y="90" width="2" height="52.4" fill="#2f6cd2"/><rect x="252" y="90" width="2" height="52.4" fill="#fc4058"/><rect x="254" y="90" width="2" height="52.4" fill="#30336e"/><rect x="256" y="90" width="4" height="52.4" fill="#fc4058"/><rect x="260" y="90" width="2" height="52.4" fill="#2f6cd2"/><rect x="262" y="90" width="2" height="52.4" fill="#fc4058"/><rect x="264" y="90" width="2" height="52.4" fill="#2f6cd2"/><rect x="266" y="90" width="2" height="52.4" fill="#2f6cd2"/><rect x="268" y="90" width="8" height="52.4" fill="#2f6cd2"/><rect x="276" y="90" width="29.5" height="52.4" fill="#30336e"/><rect x="305.5" y="90" width="1" height="52.4" fill="#2f6cd2"/><rect x="306.5" y="90" width="5.5" height="52.4" fill="#30336e"/><rect x="312" y="90" width="1" height="52.4" fill="#58b66f"/><rect x="313" y="90" width="1" height="52.4" fill="#30336e"/><rect x="314" y="90" width="5" height="52.4" fill="#2f6cd2"/><rect x="319" y="90" width="10" height="52.4" fill="#2f6cd2"/><rect x="329" y="90" width="9.5" height="52.4" fill="#30336e"/><rect x="338.5" y="90" width="1" height="52.4" fill="#fc4058"/><rect x="339.5" y="90" width="5.5" height="52.4" fill="#2f6cd2"/><rect x="345" y="90" width="92" height="52.4" fill="#30336e"/><rect x="437" y="90" width="1" height="52.4" fill="#58b66f"/><rect x="438" y="90" width="4" height="52.4" fill="#fc4058"/><rect x="442" y="90" width="4" height="52.4" fill="#2f6cd2"/><rect x="446" y="90" width="1" height="52.4" fill="#fc4058"/><rect x="447" y="90" width="6.5" height="52.4" fill="#2f6cd2"/><rect x="453.5" y="90" width="1" height="52.4" fill="#fc4058"/><rect x="454.5" y="90" width="1.5" height="52.4" fill="#2f6cd2"/><rect x="456" y="90" width="1" height="52.4" fill="#fc4058"/><rect x="457" y="90" width="2" height="52.4" fill="#2f6cd2"/><rect x="459" y="90" width="1" height="52.4" fill="#58b66f"/><rect x="460" y="90" width="81.5" height="52.4" fill="#2f6cd2"/><rect x="541.5" y="90" width="2" height="52.4" fill="#58b66f"/><rect x="543.5" y="90" width="2.5" height="52.4" fill="#2f6cd2"/><rect x="546" y="90" width="25" height="52.4" fill="#2f6cd2"/><rect x="571" y="90" width="39" height="52.4" fill="#30336e"/><rect x="610" y="90" width="82.5" height="52.4" fill="#58b66f"/><rect x="692.5" y="90" width="9.5" height="52.4" fill="#3bbcf2"/><rect x="702" y="90" width="2" height="52.4" fill="#58b66f"/><rect x="704" y="90" width="2" height="52.4" fill="#2f6cd2"/><rect x="706" y="90" width="2.5" height="52.4" fill="#58b66f"/><rect x="708.5" y="90" width="2" height="52.4" fill="#3bbcf2"/><rect x="710.5" y="90" width="11.5" height="52.4" fill="#2f6cd2"/><rect x="722" y="90" width="1.3" height="52.4" fill="#3bbcf2"/><rect x="723.3" y="90" width="1.2" height="52.4" fill="#58b66f"/><rect x="724.5" y="90" width="1.3" height="52.4" fill="#2f6cd2"/><rect x="725.8" y="90" width="1.9" height="52.4" fill="#3bbcf2"/><rect x="727.7" y="90" width="34" height="52.4" fill="#2f6cd2"/><rect x="761.7" y="90" width="1.3" height="52.4" fill="#58b66f"/><rect x="763" y="90" width="18.6" height="52.4" fill="#2f6cd2"/><rect x="781.6" y="90" width="3.4" height="52.4" fill="#fc4058"/><rect x="785" y="90" width="4.8" height="52.4" fill="#58b66f"/><rect x="789.8" y="90" width="2" height="52.4" fill="#fc4058"/><rect x="791.8" y="90" width="55.2" height="52.4" fill="#2f6cd2"/><rect x="847" y="90" width="2" height="52.4" fill="#fc4058"/><rect x="849" y="90" width="2" height="52.4" fill="#2f6cd2"/><rect x="851" y="90" width="1.7" height="52.4" fill="#fc4058"/><rect x="852.7" y="90" width="1.9" height="52.4" fill="#2f6cd2"/><rect x="854.6" y="90" width="1.9" height="52.4" fill="#58b66f"/><rect x="856.5" y="90" width="1.9" height="52.4" fill="#fc4058"/><rect x="858.4" y="90" width="2.6" height="52.4" fill="#2f6cd2"/><rect x="861" y="90" width="7" height="52.4" fill="#fc4058"/><rect x="868" y="90" width="1" height="52.4" fill="#58b66f"/><rect x="869" y="90" width="5.5" height="52.4" fill="#fc4058"/><rect x="874.5" y="90" width="1.9" height="52.4" fill="#2f6cd2"/><rect x="876.4" y="90" width="2.6" height="52.4" fill="#2f6cd2"/><rect x="879" y="90" width="10.8" height="52.4" fill="#fc4058"/><rect x="889.8" y="90" width="1.9" height="52.4" fill="#2f6cd2"/><rect x="891.7" y="90" width="1.3" height="52.4" fill="#fc4058"/><rect x="893" y="90" width="3" height="52.4" fill="#2f6cd2"/><rect x="896" y="90" width="2" height="52.4" fill="#fc4058"/><rect x="898" y="90" width="6" height="52.4" fill="#2f6cd2"/><rect x="904" y="90" width="2.4" height="52.4" fill="#fc4058"/><rect x="906.4" y="90" width="3.9" height="52.4" fill="#2f6cd2"/><rect x="910.3" y="90" width="3.2" height="52.4" fill="#fc4058"/><rect x="913.5" y="90" width="5.1" height="52.4" fill="#2f6cd2"/><rect x="918.6" y="90" width="1.9" height="52.4" fill="#fc4058"/><rect x="920.5" y="90" width="1.7" height="52.4" fill="#2f6cd2"/><rect x="922.2" y="90" width="1.3" height="52.4" fill="#58b66f"/><rect x="923.5" y="90" width="1.5" height="52.4" fill="#fc4058"/><rect x="925" y="90" width="55" height="52.4" fill="#2f6cd2"/><rect x="980" y="90" width="1" height="52.4" fill="#fc4058"/><rect x="981" y="90" width="243" height="52.4" fill="#58b66f"/><rect x="145" y="90" width="1.2" height="4" fill="#30336e"/><rect x="147.2" y="90" width="1.2" height="4" fill="#30336e"/><rect x="148.9" y="90" width="0.8" height="1.5" fill="#30336e"/><rect x="150.2" y="90" width="1.2" height="4" fill="#30336e"/><rect x="155.3" y="90" width="0.8" height="2" fill="#fc4058"/><rect x="161.9" y="90" width="0.8" height="4" fill="#30336e"/><rect x="165" y="90" width="1.2" height="2" fill="#3bbcf2"/><rect x="167.7" y="90" width="1.2" height="2.5" fill="#3bbcf2"/><rect x="170.4" y="90" width="1" height="2" fill="#30336e"/><rect x="172.9" y="90" width="0.8" height="2.5" fill="#3bbcf2"/><rect x="178.4" y="90" width="1.2" height="2.5" fill="#30336e"/><rect x="180.6" y="90" width="1" height="5" fill="#30336e"/><rect x="197" y="90" width="1" height="3" fill="#30336e"/><rect x="198.5" y="90" width="1" height="4" fill="#2f6cd2"/><rect x="200.5" y="90" width="0.8" height="2.5" fill="#2f6cd2"/><rect x="202.8" y="90" width="0.8" height="3" fill="#2f6cd2"/><rect x="204.1" y="90" width="1" height="2.5" fill="#2f6cd2"/><rect x="206.1" y="90" width="1.2" height="3" fill="#30336e"/><rect x="210.3" y="90" width="0.8" height="2" fill="#2f6cd2"/><rect x="213.1" y="90" width="1" height="2" fill="#3bbcf2"/><rect x="224.9" y="90" width="1.2" height="3" fill="#3bbcf2"/><rect x="228.1" y="90" width="0.8" height="2" fill="#3bbcf2"/><rect x="229.4" y="90" width="0.8" height="1.5" fill="#2f6cd2"/><rect x="230.7" y="90" width="1.2" height="1.5" fill="#30336e"/><rect x="233.4" y="90" width="0.8" height="2" fill="#3bbcf2"/><rect x="234.7" y="90" width="1.2" height="2.5" fill="#30336e"/><rect x="236.9" y="90" width="0.8" height="3" fill="#3bbcf2"/><rect x="238.7" y="90" width="1" height="2" fill="#2f6cd2"/><rect x="243.2" y="90" width="1.2" height="1.5" fill="#2f6cd2"/><rect x="245.9" y="90" width="1" height="4" fill="#2f6cd2"/><rect x="254" y="90" width="2" height="1" fill="#2f6cd2"/><rect x="266" y="90" width="1" height="5" fill="#3bbcf2"/><rect x="272.5" y="90" width="0.8" height="2" fill="#3bbcf2"/><rect x="273.8" y="90" width="1" height="4" fill="#3bbcf2"/><rect x="276" y="90" width="29.5" height="1" fill="#2f6cd2"/><rect x="276" y="90" width="1.2" height="5" fill="#2f6cd2"/><rect x="280.4" y="90" width="0.8" height="5" fill="#2f6cd2"/><rect x="281.7" y="90" width="1.2" height="3" fill="#2f6cd2"/><rect x="284.4" y="90" width="0.8" height="2" fill="#2f6cd2"/><rect x="294" y="90" width="0.8" height="5" fill="#2f6cd2"/><rect x="299.8" y="90" width="0.8" height="2.5" fill="#2f6cd2"/><rect x="302.1" y="90" width="1" height="3" fill="#2f6cd2"/><rect x="303.6" y="90" width="1.2" height="3" fill="#3bbcf2"/><rect x="306.5" y="90" width="5.5" height="1" fill="#2f6cd2"/><rect x="306.5" y="90" width="1.2" height="3" fill="#2f6cd2"/><rect x="310.5" y="90" width="0.8" height="4" fill="#2f6cd2"/><rect x="313" y="90" width="1" height="1" fill="#2f6cd2"/><rect x="313" y="90" width="0.8" height="4" fill="#3bbcf2"/><rect x="314" y="90" width="1.2" height="2" fill="#fc4058"/><rect x="319" y="90" width="1" height="4" fill="#3bbcf2"/><rect x="329" y="90" width="9.5" height="1" fill="#2f6cd2"/><rect x="330.7" y="90" width="1" height="1.5" fill="#3bbcf2"/><rect x="332.7" y="90" width="1" height="2" fill="#3bbcf2"/><rect x="337.8" y="90" width="0.7" height="2.5" fill="#2f6cd2"/><rect x="342.7" y="90" width="1.2" height="4" fill="#3bbcf2"/><rect x="345" y="90" width="92" height="1" fill="#2f6cd2"/><rect x="345" y="90" width="1" height="2.5" fill="#2f6cd2"/><rect x="347.5" y="90" width="1" height="4" fill="#3bbcf2"/><rect x="349.5" y="90" width="1.2" height="2.5" fill="#2f6cd2"/><rect x="352.2" y="90" width="0.8" height="2" fill="#2f6cd2"/><rect x="353.5" y="90" width="1" height="2" fill="#2f6cd2"/><rect x="357.5" y="90" width="1" height="4" fill="#3bbcf2"/><rect x="360" y="90" width="1" height="1.5" fill="#2f6cd2"/><rect x="362" y="90" width="0.8" height="1.5" fill="#2f6cd2"/><rect x="365.1" y="90" width="0.8" height="1.5" fill="#3bbcf2"/><rect x="371.6" y="90" width="0.8" height="2" fill="#2f6cd2"/><rect x="373.4" y="90" width="1.2" height="2" fill="#2f6cd2"/><rect x="379.8" y="90" width="0.8" height="5" fill="#2f6cd2"/><rect x="382.1" y="90" width="1" height="3" fill="#2f6cd2"/><rect x="384.6" y="90" width="1.2" height="3" fill="#3bbcf2"/><rect x="388.8" y="90" width="1" height="5" fill="#2f6cd2"/><rect x="392.3" y="90" width="0.8" height="5" fill="#2f6cd2"/><rect x="394.1" y="90" width="0.8" height="5" fill="#3bbcf2"/><rect x="400.4" y="90" width="1" height="2.5" fill="#3bbcf2"/><rect x="401.9" y="90" width="1" height="2.5" fill="#2f6cd2"/><rect x="405.2" y="90" width="0.8" height="1.5" fill="#2f6cd2"/><rect x="409.3" y="90" width="1.2" height="4" fill="#2f6cd2"/><rect x="414.5" y="90" width="0.8" height="5" fill="#2f6cd2"/><rect x="422.7" y="90" width="1" height="5" fill="#2f6cd2"/><rect x="438" y="90" width="0.8" height="1.5" fill="#2f6cd2"/><rect x="454.5" y="90" width="1" height="2" fill="#30336e"/><rect x="457" y="90" width="1" height="5" fill="#fc4058"/><rect x="470.8" y="90" width="1.2" height="3" fill="#fc4058"/><rect x="473.5" y="90" width="1.2" height="3" fill="#3bbcf2"/><rect x="475.2" y="90" width="1.2" height="1.5" fill="#3bbcf2"/><rect x="488.5" y="90" width="1.2" height="1.5" fill="#fc4058"/><rect x="492.2" y="90" width="1" height="1.5" fill="#3bbcf2"/><rect x="494.7" y="90" width="1" height="5" fill="#30336e"/><rect x="496.7" y="90" width="1" height="1.5" fill="#fc4058"/><rect x="501.5" y="90" width="1.2" height="5" fill="#fc4058"/><rect x="503.7" y="90" width="1" height="3" fill="#3bbcf2"/><rect x="507.2" y="90" width="0.8" height="1.5" fill="#fc4058"/><rect x="509.5" y="90" width="0.8" height="2.5" fill="#3bbcf2"/><rect x="511.8" y="90" width="1" height="2.5" fill="#3bbcf2"/><rect x="513.3" y="90" width="1.2" height="4" fill="#3bbcf2"/><rect x="515" y="90" width="1.2" height="5" fill="#3bbcf2"/><rect x="522.4" y="90" width="0.8" height="3" fill="#fc4058"/><rect x="524.2" y="90" width="1" height="5" fill="#fc4058"/><rect x="526.2" y="90" width="1.2" height="3" fill="#3bbcf2"/><rect x="528.9" y="90" width="1" height="5" fill="#30336e"/><rect x="532.2" y="90" width="1.2" height="2.5" fill="#3bbcf2"/><rect x="535.7" y="90" width="0.8" height="4" fill="#30336e"/><rect x="537.5" y="90" width="0.8" height="4" fill="#30336e"/><rect x="545" y="90" width="1" height="1.5" fill="#3bbcf2"/><rect x="550.4" y="90" width="0.8" height="2" fill="#3bbcf2"/><rect x="552.2" y="90" width="1.2" height="2.5" fill="#30336e"/><rect x="553.9" y="90" width="0.8" height="3" fill="#3bbcf2"/><rect x="555.7" y="90" width="0.8" height="4" fill="#3bbcf2"/><rect x="558.8" y="90" width="0.8" height="5" fill="#30336e"/><rect x="568.6" y="90" width="1.2" height="2" fill="#fc4058"/><rect x="571" y="90" width="39" height="1" fill="#2f6cd2"/><rect x="571" y="90" width="1.2" height="1.5" fill="#2f6cd2"/><rect x="575.2" y="90" width="0.8" height="2" fill="#2f6cd2"/><rect x="576.5" y="90" width="1.2" height="3" fill="#2f6cd2"/><rect x="582.9" y="90" width="0.8" height="3" fill="#2f6cd2"/><rect x="584.2" y="90" width="0.8" height="5" fill="#3bbcf2"/><rect x="585.5" y="90" width="1" height="3" fill="#2f6cd2"/><rect x="587" y="90" width="1" height="2.5" fill="#3bbcf2"/><rect x="589" y="90" width="1.2" height="1.5" fill="#2f6cd2"/><rect x="591.7" y="90" width="1.2" height="3" fill="#2f6cd2"/><rect x="593.9" y="90" width="0.8" height="2" fill="#2f6cd2"/><rect x="597.5" y="90" width="1.2" height="2" fill="#3bbcf2"/><rect x="599.7" y="90" width="1.2" height="4" fill="#2f6cd2"/><rect x="601.9" y="90" width="0.8" height="4" fill="#2f6cd2"/><rect x="605" y="90" width="1" height="5" fill="#2f6cd2"/><rect x="608.8" y="90" width="1" height="5" fill="#3bbcf2"/><rect x="696.5" y="90" width="0.8" height="1.5" fill="#58b66f"/><rect x="697.8" y="90" width="1" height="1.5" fill="#2f6cd2"/><rect x="704" y="90" width="1" height="5" fill="#3bbcf2"/><rect x="710.5" y="90" width="0.8" height="5" fill="#3bbcf2"/><rect x="711.8" y="90" width="1.2" height="5" fill="#3bbcf2"/><rect x="713.5" y="90" width="1" height="1.5" fill="#30336e"/><rect x="717.8" y="90" width="1" height="2.5" fill="#3bbcf2"/><rect x="733" y="90" width="1" height="3" fill="#30336e"/><rect x="734.5" y="90" width="1.2" height="5" fill="#30336e"/><rect x="737.2" y="90" width="0.8" height="2.5" fill="#3bbcf2"/><rect x="739" y="90" width="1.2" height="2" fill="#3bbcf2"/><rect x="740.7" y="90" width="0.8" height="5" fill="#30336e"/><rect x="747.2" y="90" width="0.8" height="5" fill="#3bbcf2"/><rect x="748.5" y="90" width="0.8" height="3" fill="#3bbcf2"/><rect x="754.9" y="90" width="1" height="2.5" fill="#fc4058"/><rect x="756.9" y="90" width="1.2" height="3" fill="#30336e"/><rect x="758.6" y="90" width="0.8" height="2.5" fill="#3bbcf2"/><rect x="759.9" y="90" width="1" height="2.5" fill="#30336e"/><rect x="763" y="90" width="1.2" height="1.5" fill="#3bbcf2"/><rect x="764.7" y="90" width="0.8" height="2" fill="#3bbcf2"/><rect x="767.8" y="90" width="0.8" height="4" fill="#3bbcf2"/><rect x="769.1" y="90" width="0.8" height="2" fill="#3bbcf2"/><rect x="773.9" y="90" width="0.8" height="4" fill="#3bbcf2"/><rect x="775.7" y="90" width="0.8" height="2.5" fill="#30336e"/><rect x="781.6" y="90" width="1.2" height="4" fill="#30336e"/><rect x="783.3" y="90" width="0.8" height="3" fill="#3bbcf2"/><rect x="789.8" y="90" width="1" height="3" fill="#2f6cd2"/><rect x="791.8" y="90" width="1.2" height="2" fill="#3bbcf2"/><rect x="794.5" y="90" width="1" height="2.5" fill="#fc4058"/><rect x="796.5" y="90" width="0.8" height="4" fill="#fc4058"/><rect x="798.3" y="90" width="1" height="2.5" fill="#30336e"/><rect x="800.3" y="90" width="1.2" height="1.5" fill="#3bbcf2"/><rect x="802" y="90" width="1" height="1.5" fill="#3bbcf2"/><rect x="806" y="90" width="0.8" height="4" fill="#30336e"/><rect x="808.3" y="90" width="1" height="4" fill="#fc4058"/><rect x="810.8" y="90" width="1.2" height="2.5" fill="#fc4058"/><rect x="812.5" y="90" width="1.2" height="1.5" fill="#30336e"/><rect x="816.2" y="90" width="1" height="1.5" fill="#3bbcf2"/><rect x="820.5" y="90" width="1" height="5" fill="#3bbcf2"/><rect x="824.3" y="90" width="1.2" height="2" fill="#3bbcf2"/><rect x="826" y="90" width="1.2" height="3" fill="#3bbcf2"/><rect x="827.7" y="90" width="1" height="2" fill="#30336e"/><rect x="830.2" y="90" width="0.8" height="4" fill="#30336e"/><rect x="832.5" y="90" width="1" height="4" fill="#3bbcf2"/><rect x="837.7" y="90" width="1" height="2" fill="#3bbcf2"/><rect x="839.7" y="90" width="1.2" height="4" fill="#3bbcf2"/><rect x="841.4" y="90" width="0.8" height="3" fill="#3bbcf2"/><rect x="847" y="90" width="0.8" height="2.5" fill="#3bbcf2"/><rect x="852.7" y="90" width="1.2" height="5" fill="#fc4058"/><rect x="856.5" y="90" width="1.2" height="4" fill="#3bbcf2"/><rect x="858.4" y="90" width="0.8" height="1.5" fill="#3bbcf2"/><rect x="871.3" y="90" width="1" height="4" fill="#30336e"/><rect x="873.3" y="90" width="0.8" height="3" fill="#2f6cd2"/><rect x="876.4" y="90" width="1" height="2" fill="#30336e"/><rect x="879" y="90" width="1.2" height="3" fill="#2f6cd2"/><rect x="887.4" y="90" width="0.8" height="4" fill="#3bbcf2"/><rect x="889.8" y="90" width="1" height="2.5" fill="#3bbcf2"/><rect x="891.7" y="90" width="1" height="1.5" fill="#3bbcf2"/><rect x="902" y="90" width="0.8" height="5" fill="#3bbcf2"/><rect x="904" y="90" width="1.2" height="1.5" fill="#2f6cd2"/><rect x="907.7" y="90" width="0.8" height="4" fill="#fc4058"/><rect x="910.3" y="90" width="0.8" height="2.5" fill="#2f6cd2"/><rect x="913.5" y="90" width="0.8" height="2" fill="#30336e"/><rect x="915.3" y="90" width="0.8" height="2" fill="#fc4058"/><rect x="925" y="90" width="1" height="1.5" fill="#30336e"/><rect x="926.5" y="90" width="1.2" height="2" fill="#30336e"/><rect x="931.8" y="90" width="0.8" height="2" fill="#3bbcf2"/><rect x="938.3" y="90" width="1.2" height="2.5" fill="#30336e"/><rect x="945" y="90" width="1" height="5" fill="#3bbcf2"/><rect x="959" y="90" width="1" height="2" fill="#30336e"/><rect x="961.5" y="90" width="0.8" height="2" fill="#30336e"/><rect x="964.5" y="90" width="1" height="2" fill="#3bbcf2"/><rect x="972.2" y="90" width="1.2" height="1.5" fill="#3bbcf2"/><rect x="976.7" y="90" width="0.8" height="4" fill="#30336e"/><rect x="979" y="90" width="0.8" height="1.5" fill="#30336e"/><rect x="19.5" y="90" width="1" height="5" fill="#2f6cd2"/><rect x="20" y="95" width="1" height="6" fill="#fc4058"/><rect x="22" y="90" width="1" height="6" fill="#fc4058"/><rect x="28" y="90" width="1" height="7" fill="#3bbcf2"/><rect x="28" y="120" width="1" height="22.4" fill="#fc4058"/><rect x="37" y="90" width="1" height="7" fill="#fc4058"/><rect x="81" y="90" width="1" height="5" fill="#fc4058"/><rect x="89" y="90" width="1" height="23" fill="#fc4058"/><rect x="96" y="90" width="1" height="25" fill="#fc4058"/><rect x="101" y="90" width="1" height="13" fill="#3bbcf2"/><rect x="104" y="90" width="1" height="10" fill="#3bbcf2"/><rect x="106" y="90" width="1" height="15" fill="#3bbcf2"/><rect x="107" y="90" width="1" height="8" fill="#fc4058"/><rect x="109" y="90" width="1" height="13" fill="#3bbcf2"/><rect x="116" y="106" width="1.5" height="36.4" fill="#fc4058"/><rect x="115.5" y="92" width="1" height="14" fill="#3bbcf2"/><rect x="117.5" y="103" width="1" height="39.4" fill="#2f6cd2"/><rect x="117.5" y="92" width="1" height="11" fill="#3bbcf2"/><rect x="122" y="90" width="1" height="5" fill="#3bbcf2"/><rect x="126" y="90" width="1" height="10" fill="#3bbcf2"/><rect x="127.5" y="90" width="1" height="8" fill="#3bbcf2"/><rect x="130" y="90" width="1" height="10" fill="#3bbcf2"/><rect x="132.5" y="90" width="1" height="14" fill="#fc4058"/><rect x="134" y="90" width="1" height="14" fill="#fc4058"/><rect x="136" y="90" width="1" height="10" fill="#fc4058"/><rect x="135" y="100" width="1" height="42.4" fill="#2f6cd2"/><rect x="137.3" y="90" width="1" height="10" fill="#fc4058"/><rect x="138.5" y="90" width="1" height="5" fill="#3bbcf2"/><rect x="140" y="90" width="1" height="14" fill="#fc4058"/><rect x="143.7" y="90" width="1.3" height="15" fill="#fc4058"/><rect x="147" y="90" width="1" height="10" fill="#fc4058"/><rect x="150" y="90" width="1.4" height="8" fill="#fc4058"/><rect x="153" y="90" width="1" height="10" fill="#30336e"/><rect x="156" y="90" width="1" height="7" fill="#30336e"/><rect x="158.4" y="90" width="1.3" height="10" fill="#30336e"/><rect x="162.3" y="90" width="1.3" height="15" fill="#30336e"/><rect x="164" y="90" width="1" height="7" fill="#fc4058"/><rect x="165.5" y="90" width="1.3" height="10" fill="#30336e"/><rect x="166.8" y="90" width="1.2" height="10" fill="#fc4058"/><rect x="168" y="113.6" width="2.5" height="28.8" fill="#30336e"/><rect x="171.5" y="96" width="4.5" height="46.4" fill="#30336e"/><rect x="176" y="99" width="2" height="43.4" fill="#30336e"/><rect x="178" y="108" width="2" height="34.4" fill="#30336e"/><rect x="180" y="96" width="5" height="46.4" fill="#30336e"/><rect x="185" y="113" width="2" height="29.4" fill="#30336e"/><rect x="187" y="118" width="2" height="24.4" fill="#30336e"/><rect x="174" y="96" width="1" height="24" fill="#2f6cd2"/><rect x="176" y="90" width="2" height="6" fill="#fc4058"/><rect x="185" y="90" width="5" height="10" fill="#fc4058"/><rect x="191" y="95" width="3" height="20" fill="#fc4058"/><rect x="200" y="90" width="2" height="10" fill="#2f6cd2"/><rect x="203" y="90" width="1" height="20" fill="#2f6cd2"/><rect x="207" y="90" width="3" height="15" fill="#2f6cd2"/><rect x="212" y="90" width="2" height="16" fill="#2f6cd2"/><rect x="214" y="116" width="1" height="26.4" fill="#2f6cd2"/><rect x="215" y="90" width="1" height="6" fill="#2f6cd2"/><rect x="218" y="90" width="1" height="7" fill="#2f6cd2"/><rect x="222" y="90" width="1" height="5" fill="#2f6cd2"/><rect x="225" y="90" width="1" height="6" fill="#2f6cd2"/><rect x="217" y="90" width="1" height="10" fill="#2f6cd2"/><rect x="220" y="116" width="1" height="26.4" fill="#2f6cd2"/><rect x="223" y="96" width="1" height="46.4" fill="#58b66f"/><rect x="226" y="90" width="2" height="14" fill="#2f6cd2"/><rect x="229" y="90" width="1" height="12" fill="#2f6cd2"/><rect x="232" y="90" width="1.5" height="10" fill="#2f6cd2"/><rect x="231" y="90" width="1" height="18" fill="#2f6cd2"/><rect x="233" y="90" width="1" height="20" fill="#58b66f"/><rect x="238" y="90" width="2" height="10" fill="#2f6cd2"/><rect x="239" y="100" width="1" height="8" fill="#58b66f"/><rect x="242.5" y="100" width="1" height="42.4" fill="#2f6cd2"/><rect x="245" y="90" width="2" height="7" fill="#2f6cd2"/><rect x="248" y="90" width="2" height="20" fill="#2f6cd2"/><rect x="250" y="90" width="2" height="5" fill="#30336e"/><rect x="254" y="90" width="2" height="10" fill="#2f6cd2"/><rect x="256" y="90" width="4" height="15" fill="#2f6cd2"/><rect x="260" y="90" width="2" height="5" fill="#30336e"/><rect x="262" y="90" width="2" height="10" fill="#2f6cd2"/><rect x="264" y="90" width="2" height="20" fill="#3bbcf2"/><rect x="267.4" y="90" width="1.3" height="22" fill="#fc4058"/><rect x="271" y="90" width="3" height="12" fill="#30336e"/><rect x="274.3" y="112" width="0.7" height="30.4" fill="#30336e"/><rect x="264.9" y="90" width="0.8" height="20" fill="#3bbcf2"/><rect x="264.5" y="110" width="1" height="32.4" fill="#fc4058"/><rect x="274.5" y="90" width="1" height="52.4" fill="#2f6cd2"/><rect x="276" y="90" width="4" height="23" fill="#2f6cd2"/><rect x="280" y="90" width="4" height="16" fill="#2f6cd2"/><rect x="284" y="90" width="6" height="5" fill="#2f6cd2"/><rect x="290" y="90" width="10" height="2.5" fill="#2f6cd2"/><rect x="291" y="92" width="1" height="5" fill="#2f6cd2"/><rect x="295" y="92" width="1" height="4" fill="#2f6cd2"/><rect x="300" y="90" width="6" height="2" fill="#2f6cd2"/><rect x="306.5" y="90" width="3.5" height="6" fill="#2f6cd2"/><rect x="309" y="100" width="1" height="42.4" fill="#2f6cd2"/><rect x="314" y="90" width="1" height="15" fill="#3bbcf2"/><rect x="315" y="104.6" width="4" height="13.4" fill="#fc4058"/><rect x="315" y="95" width="3" height="9.6" fill="#3bbcf2"/><rect x="317.2" y="118" width="1" height="24.4" fill="#fc4058"/><rect x="322" y="95" width="1" height="20" fill="#30336e"/><rect x="327" y="90" width="1" height="25" fill="#30336e"/><rect x="329" y="90" width="9.5" height="20" fill="#2f6cd2"/><rect x="328.3" y="110" width="1" height="32.4" fill="#2f6cd2"/><rect x="331" y="110" width="1" height="32.4" fill="#2f6cd2"/><rect x="334" y="110" width="1" height="32.4" fill="#2f6cd2"/><rect x="338.5" y="90" width="1" height="15" fill="#2f6cd2"/><rect x="340" y="90" width="3" height="6" fill="#30336e"/><rect x="344" y="90" width="1" height="52.4" fill="#2f6cd2"/><rect x="345" y="90" width="2" height="23" fill="#2f6cd2"/><rect x="347" y="90" width="3" height="15" fill="#2f6cd2"/><rect x="350" y="90" width="4" height="13" fill="#2f6cd2"/><rect x="354" y="90" width="2" height="6" fill="#2f6cd2"/><rect x="355" y="90" width="1" height="13" fill="#2f6cd2"/><rect x="358" y="90" width="2" height="4" fill="#2f6cd2"/><rect x="365" y="90" width="1" height="10" fill="#2f6cd2"/><rect x="370" y="90" width="2" height="3" fill="#2f6cd2"/><rect x="376" y="90" width="1" height="5" fill="#2f6cd2"/><rect x="383" y="90" width="2" height="4" fill="#2f6cd2"/><rect x="390" y="90" width="1" height="3" fill="#2f6cd2"/><rect x="397" y="90" width="2" height="4" fill="#2f6cd2"/><rect x="404" y="90" width="1" height="3" fill="#2f6cd2"/><rect x="410" y="90" width="2" height="4" fill="#2f6cd2"/><rect x="420" y="90" width="2" height="5" fill="#2f6cd2"/><rect x="428" y="90" width="2" height="3" fill="#2f6cd2"/><rect x="433" y="90" width="4" height="5" fill="#2f6cd2"/><rect x="437" y="90" width="3" height="5" fill="#fc4058"/><rect x="439" y="90" width="1" height="30" fill="#3bbcf2"/><rect x="443" y="95" width="2" height="17" fill="#fc4058"/><rect x="449" y="90" width="2" height="12" fill="#fc4058"/><rect x="458" y="90" width="2" height="10" fill="#fc4058"/><rect x="462" y="90" width="1" height="8" fill="#30336e"/><rect x="465" y="90" width="1" height="6" fill="#30336e"/><rect x="468" y="90" width="1" height="8" fill="#30336e"/><rect x="466" y="90" width="4" height="5" fill="#fc4058"/><rect x="469" y="95" width="1" height="25" fill="#30336e"/><rect x="473" y="100" width="1.5" height="42.4" fill="#30336e"/><rect x="476" y="100" width="1.5" height="42.4" fill="#30336e"/><rect x="478.5" y="95" width="1.5" height="47.4" fill="#30336e"/><rect x="484.4" y="90" width="3.9" height="19" fill="#fc4058"/><rect x="491.5" y="115.5" width="1.2" height="26.9" fill="#fc4058"/><rect x="494" y="91" width="0.8" height="51.4" fill="#fc4058"/><rect x="497.2" y="105" width="2.6" height="37.4" fill="#fc4058"/><rect x="501.7" y="120.6" width="1.3" height="21.8" fill="#fc4058"/><rect x="503.6" y="91" width="2" height="17" fill="#fc4058"/><rect x="507.5" y="91" width="3.8" height="13" fill="#fc4058"/><rect x="512.6" y="99" width="3.2" height="43.4" fill="#fc4058"/><rect x="516.5" y="91" width="0.7" height="27" fill="#fc4058"/><rect x="520.3" y="108" width="1.3" height="34.4" fill="#fc4058"/><rect x="522.9" y="99" width="1.3" height="43.4" fill="#fc4058"/><rect x="496" y="90" width="1" height="4" fill="#3bbcf2"/><rect x="499" y="90" width="1" height="3" fill="#3bbcf2"/><rect x="516" y="90" width="1" height="4" fill="#3bbcf2"/><rect x="519" y="90" width="1" height="3" fill="#3bbcf2"/><rect x="523" y="90" width="1" height="4" fill="#3bbcf2"/><rect x="526" y="100" width="1" height="42.4" fill="#fc4058"/><rect x="528" y="90" width="5" height="20" fill="#fc4058"/><rect x="533" y="100" width="1" height="42.4" fill="#fc4058"/><rect x="537" y="90" width="2" height="52.4" fill="#fc4058"/><rect x="538" y="95" width="2" height="35" fill="#3bbcf2"/><rect x="540" y="90" width="1.5" height="35" fill="#3bbcf2"/><rect x="543.5" y="115" width="2.5" height="27.4" fill="#3bbcf2"/><rect x="549" y="90" width="1" height="7" fill="#30336e"/><rect x="552" y="90" width="1" height="5" fill="#30336e"/><rect x="556" y="90" width="1" height="7" fill="#30336e"/><rect x="559" y="90" width="1" height="5" fill="#30336e"/><rect x="553.5" y="90" width="1" height="20" fill="#30336e"/><rect x="566" y="90" width="1" height="15" fill="#30336e"/><rect x="567" y="95" width="1" height="20" fill="#30336e"/><rect x="571" y="90" width="5" height="23" fill="#2f6cd2"/><rect x="575" y="110" width="2" height="32.4" fill="#2f6cd2"/><rect x="577" y="90" width="33" height="3" fill="#2f6cd2"/><rect x="580" y="93" width="1" height="7" fill="#2f6cd2"/><rect x="583" y="93" width="1" height="10" fill="#2f6cd2"/><rect x="587" y="93" width="1" height="5" fill="#2f6cd2"/><rect x="592" y="93" width="1" height="8" fill="#2f6cd2"/><rect x="596" y="93" width="1" height="4" fill="#2f6cd2"/><rect x="601" y="93" width="1" height="6" fill="#2f6cd2"/><rect x="606" y="93" width="1" height="4" fill="#2f6cd2"/><rect x="579" y="90" width="1" height="15" fill="#2f6cd2"/><rect x="585" y="90" width="1" height="13" fill="#2f6cd2"/><rect x="590" y="90" width="1.5" height="18" fill="#2f6cd2"/><rect x="598.2" y="100" width="1" height="42.4" fill="#2f6cd2"/><rect x="603.3" y="100" width="1.2" height="42.4" fill="#2f6cd2"/><rect x="598" y="90" width="1" height="6" fill="#fc4058"/><rect x="692.5" y="100" width="1.5" height="18" fill="#fc4058"/><rect x="692.5" y="90" width="1.5" height="10" fill="#2f6cd2"/><rect x="694" y="90" width="3" height="10" fill="#2f6cd2"/><rect x="696.3" y="100" width="1.3" height="42.4" fill="#58b66f"/><rect x="697.6" y="90" width="1.9" height="25" fill="#fc4058"/><rect x="699.5" y="90" width="2.5" height="15" fill="#2f6cd2"/><rect x="702" y="110" width="2" height="20" fill="#fc4058"/><rect x="702" y="90" width="2" height="20" fill="#2f6cd2"/><rect x="704" y="90" width="4.5" height="10" fill="#fc4058"/><rect x="708.5" y="91" width="5.1" height="13" fill="#fc4058"/><rect x="718" y="93.7" width="1.4" height="23.7" fill="#fc4058"/><rect x="722" y="90" width="1.3" height="20" fill="#2f6cd2"/><rect x="724.5" y="95" width="1.3" height="23" fill="#fc4058"/><rect x="725.8" y="90" width="1.9" height="25" fill="#2f6cd2"/><rect x="729" y="90" width="2.6" height="7" fill="#fc4058"/><rect x="733.5" y="90" width="1.5" height="5" fill="#fc4058"/><rect x="742" y="90" width="1" height="7" fill="#fc4058"/><rect x="752" y="90" width="1" height="7" fill="#fc4058"/><rect x="759.8" y="90" width="1.9" height="20" fill="#3bbcf2"/><rect x="759.8" y="110" width="1.9" height="5" fill="#fc4058"/><rect x="761" y="100" width="1.4" height="25" fill="#fc4058"/><rect x="761.7" y="90" width="1.3" height="25" fill="#2f6cd2"/><rect x="763" y="90" width="1.3" height="25" fill="#3bbcf2"/><rect x="764.3" y="120.6" width="1.3" height="21.8" fill="#fc4058"/><rect x="765" y="95" width="2" height="15" fill="#3bbcf2"/><rect x="781.6" y="90" width="3.4" height="25" fill="#2f6cd2"/><rect x="783" y="100" width="1.5" height="15" fill="#fc4058"/><rect x="784.5" y="90" width="0.7" height="52.4" fill="#fc4058"/><rect x="789.6" y="90" width="2.2" height="28" fill="#3bbcf2"/><rect x="791.8" y="90" width="1.2" height="30" fill="#3bbcf2"/><rect x="793.7" y="90" width="1.9" height="13" fill="#fc4058"/><rect x="795" y="90" width="1" height="25" fill="#fc4058"/><rect x="797.5" y="90" width="1.3" height="15" fill="#fc4058"/><rect x="802.7" y="90" width="1.3" height="6" fill="#fc4058"/><rect x="809" y="90" width="1" height="7" fill="#fc4058"/><rect x="816" y="90" width="1.4" height="6" fill="#fc4058"/><rect x="823.8" y="90" width="1.2" height="10" fill="#fc4058"/><rect x="829.6" y="90" width="1.9" height="17" fill="#fc4058"/><rect x="830" y="95" width="1" height="12" fill="#30336e"/><rect x="836" y="90" width="2" height="18" fill="#30336e"/><rect x="841" y="90" width="1" height="20" fill="#30336e"/><rect x="843.5" y="90" width="1.5" height="16" fill="#30336e"/><rect x="847" y="90" width="2" height="15" fill="#2f6cd2"/><rect x="851" y="90" width="1.7" height="20" fill="#2f6cd2"/><rect x="854.6" y="90" width="1.9" height="30" fill="#2f6cd2"/><rect x="855" y="90" width="1.5" height="15" fill="#3bbcf2"/><rect x="856.5" y="90" width="1.9" height="10" fill="#2f6cd2"/><rect x="861" y="90" width="7" height="20" fill="#2f6cd2"/><rect x="862" y="90" width="1" height="10" fill="#30336e"/><rect x="864.5" y="90" width="1" height="7" fill="#30336e"/><rect x="863" y="90" width="1" height="20" fill="#fc4058"/><rect x="869" y="90" width="5.5" height="18" fill="#2f6cd2"/><rect x="866" y="90" width="1" height="6" fill="#30336e"/><rect x="869" y="90" width="1" height="8" fill="#30336e"/><rect x="872" y="90" width="1" height="5" fill="#30336e"/><rect x="874.5" y="90" width="1.9" height="52.4" fill="#fc4058"/><rect x="876.4" y="90" width="2.6" height="25" fill="#fc4058"/><rect x="877" y="90" width="1" height="20" fill="#30336e"/><rect x="880" y="90" width="1" height="14" fill="#30336e"/><rect x="879" y="90" width="10.8" height="5" fill="#2f6cd2"/><rect x="884" y="95" width="5.8" height="6" fill="#2f6cd2"/><rect x="889.8" y="90" width="1.9" height="20" fill="#fc4058"/><rect x="889" y="90" width="1" height="10" fill="#30336e"/><rect x="892" y="90" width="1" height="7" fill="#30336e"/><rect x="891.7" y="90" width="1.3" height="10" fill="#3bbcf2"/><rect x="896" y="90" width="2" height="5" fill="#2f6cd2"/><rect x="900" y="104" width="1.3" height="38.4" fill="#30336e"/><rect x="901" y="90" width="1" height="15" fill="#30336e"/><rect x="903.5" y="90" width="1" height="10" fill="#30336e"/><rect x="906" y="90" width="1" height="13" fill="#30336e"/><rect x="908.5" y="90" width="1" height="8" fill="#30336e"/><rect x="904" y="90" width="2.4" height="10" fill="#2f6cd2"/><rect x="908" y="110" width="1" height="32.4" fill="#fc4058"/><rect x="910.3" y="90" width="3.2" height="5" fill="#2f6cd2"/><rect x="918.6" y="90" width="1.9" height="20" fill="#2f6cd2"/><rect x="922.2" y="90" width="1.3" height="5" fill="#2f6cd2"/><rect x="923.5" y="90" width="1.5" height="5" fill="#2f6cd2"/><rect x="937" y="90" width="1" height="6" fill="#30336e"/><rect x="940" y="90" width="1" height="5" fill="#30336e"/><rect x="944" y="90" width="1" height="10" fill="#30336e"/><rect x="946" y="90" width="1.5" height="7" fill="#fc4058"/><rect x="948" y="90" width="1" height="10" fill="#30336e"/><rect x="952" y="90" width="2.5" height="16" fill="#30336e"/><rect x="956" y="95" width="1" height="25" fill="#30336e"/><rect x="957" y="110" width="1" height="32.4" fill="#30336e"/><rect x="960.3" y="108" width="1.3" height="34.4" fill="#30336e"/><rect x="962.8" y="115" width="1.2" height="27.4" fill="#30336e"/><rect x="965.4" y="105" width="7.1" height="37.4" fill="#30336e"/><rect x="973" y="110" width="2" height="32.4" fill="#30336e"/><rect x="967" y="115.5" width="1" height="26.9" fill="#2f6cd2"/><rect x="970" y="100" width="2.5" height="42.4" fill="#30336e"/><rect x="975" y="105" width="4" height="37.4" fill="#30336e"/><rect x="976.5" y="105" width="0.8" height="37.4" fill="#2f6cd2"/><rect x="959" y="90" width="1" height="7" fill="#30336e"/><rect x="962" y="90" width="1" height="9" fill="#30336e"/><rect x="966" y="90" width="1" height="6" fill="#30336e"/><rect x="969" y="90" width="1" height="10" fill="#30336e"/><rect x="972" y="90" width="1" height="6" fill="#30336e"/><rect x="975" y="90" width="1" height="8" fill="#30336e"/><rect x="979" y="90" width="1" height="15" fill="#fc4058"/></g><g><rect x="16" y="157.2" width="12" height="10.6" fill="#7cc88e"/><rect x="28" y="157.2" width="1" height="10.6" fill="#fc6e80"/><rect x="29" y="157.2" width="87" height="10.6" fill="#7cc88e"/><rect x="116" y="157.2" width="1" height="10.6" fill="#fc6e80"/><rect x="117" y="157.2" width="1" height="10.6" fill="#6690dc"/><rect x="118" y="157.2" width="16" height="10.6" fill="#7cc88e"/><rect x="134" y="157.2" width="1.5" height="10.6" fill="#6690dc"/><rect x="135.5" y="157.2" width="7.5" height="10.6" fill="#7cc88e"/><rect x="143" y="157.2" width="2" height="10.6" fill="#6ccdf6"/><rect x="145" y="157.2" width="24" height="10.6" fill="#6690dc"/><rect x="169" y="157.2" width="24" height="10.6" fill="#5a5d8c"/><rect x="193" y="157.2" width="4" height="10.6" fill="#6690dc"/><rect x="197" y="157.2" width="53" height="10.6" fill="#fc6e80"/><rect x="250" y="157.2" width="2" height="10.6" fill="#5a5d8c"/><rect x="252" y="157.2" width="4" height="10.6" fill="#fc6e80"/><rect x="256" y="157.2" width="1" height="10.6" fill="#5a5d8c"/><rect x="257" y="157.2" width="4" height="10.6" fill="#fc6e80"/><rect x="261" y="157.2" width="4" height="10.6" fill="#6690dc"/><rect x="265" y="157.2" width="10" height="10.6" fill="#6690dc"/><rect x="275" y="157.2" width="30" height="10.6" fill="#5a5d8c"/><rect x="305" y="157.2" width="2" height="10.6" fill="#6690dc"/><rect x="307" y="157.2" width="5" height="10.6" fill="#5a5d8c"/><rect x="312" y="157.2" width="1" height="10.6" fill="#7cc88e"/><rect x="313" y="157.2" width="3" height="10.6" fill="#6690dc"/><rect x="316" y="157.2" width="1" height="10.6" fill="#fc6e80"/><rect x="317" y="157.2" width="1" height="10.6" fill="#6690dc"/><rect x="318" y="157.2" width="1" height="10.6" fill="#fc6e80"/><rect x="319" y="157.2" width="19" height="10.6" fill="#6690dc"/><rect x="338" y="157.2" width="1" height="10.6" fill="#fc6e80"/><rect x="339" y="157.2" width="6" height="10.6" fill="#6690dc"/><rect x="345" y="157.2" width="91" height="10.6" fill="#5a5d8c"/><rect x="436" y="157.2" width="2" height="10.6" fill="#7cc88e"/><rect x="438" y="157.2" width="4" height="10.6" fill="#fc6e80"/><rect x="442" y="157.2" width="22" height="10.6" fill="#6690dc"/><rect x="464" y="157.2" width="9" height="10.6" fill="#6690dc"/><rect x="473" y="157.2" width="8" height="10.6" fill="#5a5d8c"/><rect x="481" y="157.2" width="9" height="10.6" fill="#6690dc"/><rect x="490" y="157.2" width="4" height="10.6" fill="#fc6e80"/><rect x="494" y="157.2" width="17" height="10.6" fill="#6690dc"/><rect x="511" y="157.2" width="4" height="10.6" fill="#fc6e80"/><rect x="515" y="157.2" width="24" height="10.6" fill="#6690dc"/><rect x="539" y="157.2" width="2" height="10.6" fill="#6690dc"/><rect x="541" y="157.2" width="4" height="10.6" fill="#6ccdf6"/><rect x="545" y="157.2" width="26" height="10.6" fill="#6690dc"/><rect x="571" y="157.2" width="38" height="10.6" fill="#5a5d8c"/><rect x="609" y="157.2" width="84" height="10.6" fill="#7cc88e"/><rect x="693" y="157.2" width="4" height="10.6" fill="#6ccdf6"/><rect x="697" y="157.2" width="2" height="10.6" fill="#6690dc"/><rect x="699" y="157.2" width="5" height="10.6" fill="#6ccdf6"/><rect x="704" y="157.2" width="1" height="10.6" fill="#7cc88e"/><rect x="705" y="157.2" width="17" height="10.6" fill="#6690dc"/><rect x="721.5" y="157.2" width="1" height="10.6" fill="#6ccdf6"/><rect x="722.5" y="157.2" width="2.5" height="10.6" fill="#7cc88e"/><rect x="725" y="157.2" width="3" height="10.6" fill="#6ccdf6"/><rect x="728" y="157.2" width="32" height="10.6" fill="#6690dc"/><rect x="760" y="157.2" width="2" height="10.6" fill="#7cc88e"/><rect x="762" y="157.2" width="3" height="10.6" fill="#6690dc"/><rect x="765" y="157.2" width="1" height="10.6" fill="#7cc88e"/><rect x="766" y="157.2" width="15" height="10.6" fill="#6690dc"/><rect x="781" y="157.2" width="4" height="10.6" fill="#fc6e80"/><rect x="785" y="157.2" width="4" height="10.6" fill="#7cc88e"/><rect x="789" y="157.2" width="2" height="10.6" fill="#fc6e80"/><rect x="791" y="157.2" width="1" height="10.6" fill="#6ccdf6"/><rect x="792" y="157.2" width="55" height="10.6" fill="#6690dc"/><rect x="847" y="157.2" width="1" height="10.6" fill="#fc6e80"/><rect x="848" y="157.2" width="3" height="10.6" fill="#6690dc"/><rect x="851" y="157.2" width="1" height="10.6" fill="#fc6e80"/><rect x="852" y="157.2" width="3" height="10.6" fill="#6690dc"/><rect x="855" y="157.2" width="1" height="10.6" fill="#7cc88e"/><rect x="856" y="157.2" width="2" height="10.6" fill="#fc6e80"/><rect x="858" y="157.2" width="4" height="10.6" fill="#6690dc"/><rect x="862" y="157.2" width="13" height="10.6" fill="#fc6e80"/><rect x="875" y="157.2" width="5" height="10.6" fill="#6690dc"/><rect x="880" y="157.2" width="9" height="10.6" fill="#fc6e80"/><rect x="889" y="157.2" width="8" height="10.6" fill="#6690dc"/><rect x="897" y="157.2" width="2" height="10.6" fill="#fc6e80"/><rect x="899" y="157.2" width="15" height="10.6" fill="#6690dc"/><rect x="914" y="157.2" width="2" height="10.6" fill="#fc6e80"/><rect x="916" y="157.2" width="2" height="10.6" fill="#6690dc"/><rect x="918" y="157.2" width="1" height="10.6" fill="#fc6e80"/><rect x="919" y="157.2" width="3" height="10.6" fill="#6690dc"/><rect x="922" y="157.2" width="1" height="10.6" fill="#7cc88e"/><rect x="923" y="157.2" width="1" height="10.6" fill="#6690dc"/><rect x="924" y="157.2" width="1" height="10.6" fill="#fc6e80"/><rect x="925" y="157.2" width="35" height="10.6" fill="#6690dc"/><rect x="960" y="157.2" width="20" height="10.6" fill="#5a5d8c"/><rect x="980" y="157.2" width="1" height="10.6" fill="#fc6e80"/><rect x="981" y="157.2" width="243" height="10.6" fill="#7cc88e"/><rect x="174" y="157.2" width="1" height="10.6" fill="#6690dc"/><rect x="182" y="157.2" width="1" height="10.6" fill="#6690dc"/><rect x="214" y="157.2" width="1" height="10.6" fill="#6690dc"/><rect x="220" y="157.2" width="1" height="10.6" fill="#6690dc"/><rect x="223" y="157.2" width="1" height="10.6" fill="#7cc88e"/><rect x="320" y="157.2" width="1" height="10.6" fill="#5a5d8c"/><rect x="324" y="157.2" width="2" height="10.6" fill="#5a5d8c"/><rect x="329" y="157.2" width="8" height="10.6" fill="#5a5d8c"/><rect x="445" y="157.2" width="1" height="10.6" fill="#fc6e80"/><rect x="453" y="157.2" width="1" height="10.6" fill="#fc6e80"/><rect x="456" y="157.2" width="1" height="10.6" fill="#fc6e80"/><rect x="459" y="157.2" width="1" height="10.6" fill="#7cc88e"/><rect x="527" y="157.2" width="1" height="10.6" fill="#fc6e80"/><rect x="531" y="157.2" width="1" height="10.6" fill="#fc6e80"/><rect x="578" y="157.2" width="1" height="10.6" fill="#6690dc"/><rect x="586" y="157.2" width="1" height="10.6" fill="#6690dc"/><rect x="597" y="157.2" width="1" height="10.6" fill="#6690dc"/><rect x="603" y="157.2" width="1" height="10.6" fill="#6690dc"/><rect x="868" y="157.2" width="1" height="10.6" fill="#7cc88e"/><rect x="904" y="157.2" width="1" height="10.6" fill="#fc6e80"/><rect x="910" y="157.2" width="1" height="10.6" fill="#fc6e80"/><rect x="962" y="157.2" width="2" height="10.6" fill="#6690dc"/><rect x="968" y="157.2" width="2" height="10.6" fill="#6690dc"/><rect x="975" y="157.2" width="1" height="10.6" fill="#6690dc"/></g><g mask="url(#vm)"><rect x="16" y="157.2" width="12" height="10.6" fill="#3fae5a"/><rect x="28" y="157.2" width="1" height="10.6" fill="#f83c56"/><rect x="29" y="157.2" width="87" height="10.6" fill="#3fae5a"/><rect x="116" y="157.2" width="1" height="10.6" fill="#f83c56"/><rect x="117" y="157.2" width="1" height="10.6" fill="#2d67d0"/><rect x="118" y="157.2" width="16" height="10.6" fill="#3fae5a"/><rect x="134" y="157.2" width="1.5" height="10.6" fill="#2d67d0"/><rect x="135.5" y="157.2" width="7.5" height="10.6" fill="#3fae5a"/><rect x="143" y="157.2" width="2" height="10.6" fill="#35b8f0"/><rect x="145" y="157.2" width="24" height="10.6" fill="#2d67d0"/><rect x="169" y="157.2" width="24" height="10.6" fill="#1f2360"/><rect x="193" y="157.2" width="4" height="10.6" fill="#2d67d0"/><rect x="197" y="157.2" width="53" height="10.6" fill="#f83c56"/><rect x="250" y="157.2" width="2" height="10.6" fill="#1f2360"/><rect x="252" y="157.2" width="4" height="10.6" fill="#f83c56"/><rect x="256" y="157.2" width="1" height="10.6" fill="#1f2360"/><rect x="257" y="157.2" width="4" height="10.6" fill="#f83c56"/><rect x="261" y="157.2" width="4" height="10.6" fill="#2d67d0"/><rect x="265" y="157.2" width="10" height="10.6" fill="#2d67d0"/><rect x="275" y="157.2" width="30" height="10.6" fill="#1f2360"/><rect x="305" y="157.2" width="2" height="10.6" fill="#2d67d0"/><rect x="307" y="157.2" width="5" height="10.6" fill="#1f2360"/><rect x="312" y="157.2" width="1" height="10.6" fill="#3fae5a"/><rect x="313" y="157.2" width="3" height="10.6" fill="#2d67d0"/><rect x="316" y="157.2" width="1" height="10.6" fill="#f83c56"/><rect x="317" y="157.2" width="1" height="10.6" fill="#2d67d0"/><rect x="318" y="157.2" width="1" height="10.6" fill="#f83c56"/><rect x="319" y="157.2" width="19" height="10.6" fill="#2d67d0"/><rect x="338" y="157.2" width="1" height="10.6" fill="#f83c56"/><rect x="339" y="157.2" width="6" height="10.6" fill="#2d67d0"/><rect x="345" y="157.2" width="91" height="10.6" fill="#1f2360"/><rect x="436" y="157.2" width="2" height="10.6" fill="#3fae5a"/><rect x="438" y="157.2" width="4" height="10.6" fill="#f83c56"/><rect x="442" y="157.2" width="22" height="10.6" fill="#2d67d0"/><rect x="464" y="157.2" width="9" height="10.6" fill="#2d67d0"/><rect x="473" y="157.2" width="8" height="10.6" fill="#1f2360"/><rect x="481" y="157.2" width="9" height="10.6" fill="#2d67d0"/><rect x="490" y="157.2" width="4" height="10.6" fill="#f83c56"/><rect x="494" y="157.2" width="17" height="10.6" fill="#2d67d0"/><rect x="511" y="157.2" width="4" height="10.6" fill="#f83c56"/><rect x="515" y="157.2" width="24" height="10.6" fill="#2d67d0"/><rect x="539" y="157.2" width="2" height="10.6" fill="#2d67d0"/><rect x="541" y="157.2" width="4" height="10.6" fill="#35b8f0"/><rect x="545" y="157.2" width="26" height="10.6" fill="#2d67d0"/><rect x="571" y="157.2" width="38" height="10.6" fill="#1f2360"/><rect x="609" y="157.2" width="84" height="10.6" fill="#3fae5a"/><rect x="693" y="157.2" width="4" height="10.6" fill="#35b8f0"/><rect x="697" y="157.2" width="2" height="10.6" fill="#2d67d0"/><rect x="699" y="157.2" width="5" height="10.6" fill="#35b8f0"/><rect x="704" y="157.2" width="1" height="10.6" fill="#3fae5a"/><rect x="705" y="157.2" width="17" height="10.6" fill="#2d67d0"/><rect x="721.5" y="157.2" width="1" height="10.6" fill="#35b8f0"/><rect x="722.5" y="157.2" width="2.5" height="10.6" fill="#3fae5a"/><rect x="725" y="157.2" width="3" height="10.6" fill="#35b8f0"/><rect x="728" y="157.2" width="32" height="10.6" fill="#2d67d0"/><rect x="760" y="157.2" width="2" height="10.6" fill="#3fae5a"/><rect x="762" y="157.2" width="3" height="10.6" fill="#2d67d0"/><rect x="765" y="157.2" width="1" height="10.6" fill="#3fae5a"/><rect x="766" y="157.2" width="15" height="10.6" fill="#2d67d0"/><rect x="781" y="157.2" width="4" height="10.6" fill="#f83c56"/><rect x="785" y="157.2" width="4" height="10.6" fill="#3fae5a"/><rect x="789" y="157.2" width="2" height="10.6" fill="#f83c56"/><rect x="791" y="157.2" width="1" height="10.6" fill="#35b8f0"/><rect x="792" y="157.2" width="55" height="10.6" fill="#2d67d0"/><rect x="847" y="157.2" width="1" height="10.6" fill="#f83c56"/><rect x="848" y="157.2" width="3" height="10.6" fill="#2d67d0"/><rect x="851" y="157.2" width="1" height="10.6" fill="#f83c56"/><rect x="852" y="157.2" width="3" height="10.6" fill="#2d67d0"/><rect x="855" y="157.2" width="1" height="10.6" fill="#3fae5a"/><rect x="856" y="157.2" width="2" height="10.6" fill="#f83c56"/><rect x="858" y="157.2" width="4" height="10.6" fill="#2d67d0"/><rect x="862" y="157.2" width="13" height="10.6" fill="#f83c56"/><rect x="875" y="157.2" width="5" height="10.6" fill="#2d67d0"/><rect x="880" y="157.2" width="9" height="10.6" fill="#f83c56"/><rect x="889" y="157.2" width="8" height="10.6" fill="#2d67d0"/><rect x="897" y="157.2" width="2" height="10.6" fill="#f83c56"/><rect x="899" y="157.2" width="15" height="10.6" fill="#2d67d0"/><rect x="914" y="157.2" width="2" height="10.6" fill="#f83c56"/><rect x="916" y="157.2" width="2" height="10.6" fill="#2d67d0"/><rect x="918" y="157.2" width="1" height="10.6" fill="#f83c56"/><rect x="919" y="157.2" width="3" height="10.6" fill="#2d67d0"/><rect x="922" y="157.2" width="1" height="10.6" fill="#3fae5a"/><rect x="923" y="157.2" width="1" height="10.6" fill="#2d67d0"/><rect x="924" y="157.2" width="1" height="10.6" fill="#f83c56"/><rect x="925" y="157.2" width="35" height="10.6" fill="#2d67d0"/><rect x="960" y="157.2" width="20" height="10.6" fill="#1f2360"/><rect x="980" y="157.2" width="1" height="10.6" fill="#f83c56"/><rect x="981" y="157.2" width="243" height="10.6" fill="#3fae5a"/><rect x="174" y="157.2" width="1" height="10.6" fill="#2d67d0"/><rect x="182" y="157.2" width="1" height="10.6" fill="#2d67d0"/><rect x="214" y="157.2" width="1" height="10.6" fill="#2d67d0"/><rect x="220" y="157.2" width="1" height="10.6" fill="#2d67d0"/><rect x="223" y="157.2" width="1" height="10.6" fill="#3fae5a"/><rect x="320" y="157.2" width="1" height="10.6" fill="#1f2360"/><rect x="324" y="157.2" width="2" height="10.6" fill="#1f2360"/><rect x="329" y="157.2" width="8" height="10.6" fill="#1f2360"/><rect x="445" y="157.2" width="1" height="10.6" fill="#f83c56"/><rect x="453" y="157.2" width="1" height="10.6" fill="#f83c56"/><rect x="456" y="157.2" width="1" height="10.6" fill="#f83c56"/><rect x="459" y="157.2" width="1" height="10.6" fill="#3fae5a"/><rect x="527" y="157.2" width="1" height="10.6" fill="#f83c56"/><rect x="531" y="157.2" width="1" height="10.6" fill="#f83c56"/><rect x="578" y="157.2" width="1" height="10.6" fill="#2d67d0"/><rect x="586" y="157.2" width="1" height="10.6" fill="#2d67d0"/><rect x="597" y="157.2" width="1" height="10.6" fill="#2d67d0"/><rect x="603" y="157.2" width="1" height="10.6" fill="#2d67d0"/><rect x="868" y="157.2" width="1" height="10.6" fill="#3fae5a"/><rect x="904" y="157.2" width="1" height="10.6" fill="#f83c56"/><rect x="910" y="157.2" width="1" height="10.6" fill="#f83c56"/><rect x="962" y="157.2" width="2" height="10.6" fill="#2d67d0"/><rect x="968" y="157.2" width="2" height="10.6" fill="#2d67d0"/><rect x="975" y="157.2" width="1" height="10.6" fill="#2d67d0"/></g><g><rect x="16" y="182" width="90" height="10.5" fill="#7cc88e"/><rect x="106" y="182" width="2" height="10.5" fill="#6690dc"/><rect x="108" y="182" width="5" height="10.5" fill="#7cc88e"/><rect x="113" y="182" width="5" height="10.5" fill="#6690dc"/><rect x="118" y="182" width="16" height="10.5" fill="#7cc88e"/><rect x="134" y="182" width="2" height="10.5" fill="#6690dc"/><rect x="136" y="182" width="7" height="10.5" fill="#7cc88e"/><rect x="143" y="182" width="26" height="10.5" fill="#6690dc"/><rect x="169" y="182" width="22" height="10.5" fill="#5a5d8c"/><rect x="191" y="182" width="6" height="10.5" fill="#6690dc"/><rect x="197" y="182" width="42" height="10.5" fill="#fc6e80"/><rect x="239" y="182" width="3" height="10.5" fill="#6690dc"/><rect x="242" y="182" width="8" height="10.5" fill="#fc6e80"/><rect x="250" y="182" width="5" height="10.5" fill="#6690dc"/><rect x="255" y="182" width="7" height="10.5" fill="#fc6e80"/><rect x="262" y="182" width="3" height="10.5" fill="#6690dc"/><rect x="265" y="182" width="1" height="10.5" fill="#7cc88e"/><rect x="266" y="182" width="9" height="10.5" fill="#6690dc"/><rect x="275" y="182" width="35" height="10.5" fill="#5a5d8c"/><rect x="310" y="182" width="6" height="10.5" fill="#7cc88e"/><rect x="316" y="182" width="2" height="10.5" fill="#6ccdf6"/><rect x="318" y="182" width="12" height="10.5" fill="#6690dc"/><rect x="330" y="182" width="6" height="10.5" fill="#5a5d8c"/><rect x="336" y="182" width="9" height="10.5" fill="#6690dc"/><rect x="345" y="182" width="91" height="10.5" fill="#5a5d8c"/><rect x="436" y="182" width="2" height="10.5" fill="#7cc88e"/><rect x="438" y="182" width="26" height="10.5" fill="#6690dc"/><rect x="464" y="182" width="9" height="10.5" fill="#6690dc"/><rect x="473" y="182" width="8" height="10.5" fill="#5a5d8c"/><rect x="481" y="182" width="9" height="10.5" fill="#6690dc"/><rect x="490" y="182" width="11" height="10.5" fill="#fc6e80"/><rect x="501" y="182" width="9" height="10.5" fill="#6690dc"/><rect x="510" y="182" width="6" height="10.5" fill="#fc6e80"/><rect x="516" y="182" width="5" height="10.5" fill="#6690dc"/><rect x="521" y="182" width="5" height="10.5" fill="#fc6e80"/><rect x="526" y="182" width="15" height="10.5" fill="#6690dc"/><rect x="541" y="182" width="4" height="10.5" fill="#7cc88e"/><rect x="545" y="182" width="35" height="10.5" fill="#6690dc"/><rect x="580" y="182" width="29" height="10.5" fill="#5a5d8c"/><rect x="609" y="182" width="88" height="10.5" fill="#7cc88e"/><rect x="697" y="182" width="2" height="10.5" fill="#6ccdf6"/><rect x="699" y="182" width="23" height="10.5" fill="#6690dc"/><rect x="722" y="182" width="1.5" height="10.5" fill="#6690dc"/><rect x="723.5" y="182" width="3.5" height="10.5" fill="#7cc88e"/><rect x="727" y="182" width="1" height="10.5" fill="#6ccdf6"/><rect x="728" y="182" width="32" height="10.5" fill="#6690dc"/><rect x="760" y="182" width="6" height="10.5" fill="#7cc88e"/><rect x="766" y="182" width="16" height="10.5" fill="#6690dc"/><rect x="782" y="182" width="5" height="10.5" fill="#fc6e80"/><rect x="787" y="182" width="5" height="10.5" fill="#7cc88e"/><rect x="792" y="182" width="1" height="10.5" fill="#6ccdf6"/><rect x="793" y="182" width="60" height="10.5" fill="#6690dc"/><rect x="853" y="182" width="43" height="10.5" fill="#fc6e80"/><rect x="896" y="182" width="12" height="10.5" fill="#6690dc"/><rect x="908" y="182" width="4" height="10.5" fill="#fc6e80"/><rect x="912" y="182" width="2" height="10.5" fill="#6690dc"/><rect x="914" y="182" width="1" height="10.5" fill="#6ccdf6"/><rect x="915" y="182" width="7" height="10.5" fill="#6690dc"/><rect x="922" y="182" width="3" height="10.5" fill="#7cc88e"/><rect x="925" y="182" width="40" height="10.5" fill="#6690dc"/><rect x="965" y="182" width="15" height="10.5" fill="#5a5d8c"/><rect x="980" y="182" width="244" height="10.5" fill="#7cc88e"/><rect x="459" y="182" width="1" height="10.5" fill="#7cc88e"/><rect x="843" y="182" width="1" height="10.5" fill="#5a5d8c"/><rect x="870" y="182" width="1" height="10.5" fill="#7cc88e"/><rect x="586" y="182" width="1" height="10.5" fill="#6690dc"/><rect x="594" y="182" width="1" height="10.5" fill="#6690dc"/><rect x="600" y="182" width="1" height="10.5" fill="#6690dc"/><rect x="970" y="182" width="1" height="10.5" fill="#6690dc"/><rect x="975" y="182" width="1" height="10.5" fill="#6690dc"/></g><g mask="url(#vm)"><rect x="16" y="182" width="90" height="10.5" fill="#3fae5a"/><rect x="106" y="182" width="2" height="10.5" fill="#2d67d0"/><rect x="108" y="182" width="5" height="10.5" fill="#3fae5a"/><rect x="113" y="182" width="5" height="10.5" fill="#2d67d0"/><rect x="118" y="182" width="16" height="10.5" fill="#3fae5a"/><rect x="134" y="182" width="2" height="10.5" fill="#2d67d0"/><rect x="136" y="182" width="7" height="10.5" fill="#3fae5a"/><rect x="143" y="182" width="26" height="10.5" fill="#2d67d0"/><rect x="169" y="182" width="22" height="10.5" fill="#1f2360"/><rect x="191" y="182" width="6" height="10.5" fill="#2d67d0"/><rect x="197" y="182" width="42" height="10.5" fill="#f83c56"/><rect x="239" y="182" width="3" height="10.5" fill="#2d67d0"/><rect x="242" y="182" width="8" height="10.5" fill="#f83c56"/><rect x="250" y="182" width="5" height="10.5" fill="#2d67d0"/><rect x="255" y="182" width="7" height="10.5" fill="#f83c56"/><rect x="262" y="182" width="3" height="10.5" fill="#2d67d0"/><rect x="265" y="182" width="1" height="10.5" fill="#3fae5a"/><rect x="266" y="182" width="9" height="10.5" fill="#2d67d0"/><rect x="275" y="182" width="35" height="10.5" fill="#1f2360"/><rect x="310" y="182" width="6" height="10.5" fill="#3fae5a"/><rect x="316" y="182" width="2" height="10.5" fill="#35b8f0"/><rect x="318" y="182" width="12" height="10.5" fill="#2d67d0"/><rect x="330" y="182" width="6" height="10.5" fill="#1f2360"/><rect x="336" y="182" width="9" height="10.5" fill="#2d67d0"/><rect x="345" y="182" width="91" height="10.5" fill="#1f2360"/><rect x="436" y="182" width="2" height="10.5" fill="#3fae5a"/><rect x="438" y="182" width="26" height="10.5" fill="#2d67d0"/><rect x="464" y="182" width="9" height="10.5" fill="#2d67d0"/><rect x="473" y="182" width="8" height="10.5" fill="#1f2360"/><rect x="481" y="182" width="9" height="10.5" fill="#2d67d0"/><rect x="490" y="182" width="11" height="10.5" fill="#f83c56"/><rect x="501" y="182" width="9" height="10.5" fill="#2d67d0"/><rect x="510" y="182" width="6" height="10.5" fill="#f83c56"/><rect x="516" y="182" width="5" height="10.5" fill="#2d67d0"/><rect x="521" y="182" width="5" height="10.5" fill="#f83c56"/><rect x="526" y="182" width="15" height="10.5" fill="#2d67d0"/><rect x="541" y="182" width="4" height="10.5" fill="#3fae5a"/><rect x="545" y="182" width="35" height="10.5" fill="#2d67d0"/><rect x="580" y="182" width="29" height="10.5" fill="#1f2360"/><rect x="609" y="182" width="88" height="10.5" fill="#3fae5a"/><rect x="697" y="182" width="2" height="10.5" fill="#35b8f0"/><rect x="699" y="182" width="23" height="10.5" fill="#2d67d0"/><rect x="722" y="182" width="1.5" height="10.5" fill="#2d67d0"/><rect x="723.5" y="182" width="3.5" height="10.5" fill="#3fae5a"/><rect x="727" y="182" width="1" height="10.5" fill="#35b8f0"/><rect x="728" y="182" width="32" height="10.5" fill="#2d67d0"/><rect x="760" y="182" width="6" height="10.5" fill="#3fae5a"/><rect x="766" y="182" width="16" height="10.5" fill="#2d67d0"/><rect x="782" y="182" width="5" height="10.5" fill="#f83c56"/><rect x="787" y="182" width="5" height="10.5" fill="#3fae5a"/><rect x="792" y="182" width="1" height="10.5" fill="#35b8f0"/><rect x="793" y="182" width="60" height="10.5" fill="#2d67d0"/><rect x="853" y="182" width="43" height="10.5" fill="#f83c56"/><rect x="896" y="182" width="12" height="10.5" fill="#2d67d0"/><rect x="908" y="182" width="4" height="10.5" fill="#f83c56"/><rect x="912" y="182" width="2" height="10.5" fill="#2d67d0"/><rect x="914" y="182" width="1" height="10.5" fill="#35b8f0"/><rect x="915" y="182" width="7" height="10.5" fill="#2d67d0"/><rect x="922" y="182" width="3" height="10.5" fill="#3fae5a"/><rect x="925" y="182" width="40" height="10.5" fill="#2d67d0"/><rect x="965" y="182" width="15" height="10.5" fill="#1f2360"/><rect x="980" y="182" width="244" height="10.5" fill="#3fae5a"/><rect x="459" y="182" width="1" height="10.5" fill="#3fae5a"/><rect x="843" y="182" width="1" height="10.5" fill="#1f2360"/><rect x="870" y="182" width="1" height="10.5" fill="#3fae5a"/><rect x="586" y="182" width="1" height="10.5" fill="#2d67d0"/><rect x="594" y="182" width="1" height="10.5" fill="#2d67d0"/><rect x="600" y="182" width="1" height="10.5" fill="#2d67d0"/><rect x="970" y="182" width="1" height="10.5" fill="#2d67d0"/><rect x="975" y="182" width="1" height="10.5" fill="#2d67d0"/></g></svg></div>

<div class="tbl" style="left:13px;width:565px;height:260px;">
  <div class="th" style="left:17px;">Metric</div>
  <div class="th" style="left:123px;">Description</div>
  <div class="th" style="right:17px;">Value</div>
  <svg class="sort" style="left:93px" viewBox="0 0 9 15"><path d="M4.5 0.6 L8.4 7 L0.6 7Z M4.5 14.8 L8.4 8 L0.6 8Z" fill="#dcdcdc"/></svg>
  <svg class="sort" style="left:455px" viewBox="0 0 9 15"><path d="M4.5 0.6 L8.4 7 L0.6 7Z M4.5 14.8 L8.4 8 L0.6 8Z" fill="#dcdcdc"/></svg>
  <svg class="sort" style="left:551px" viewBox="0 0 9 15"><path d="M4.5 0.6 L8.4 7 L0.6 7Z M4.5 14.8 L8.4 8 L0.6 8Z" fill="#dcdcdc"/></svg>
  <div class="hline"></div>
  <div class="clip">
    <div class="row g" style="top:0;height:33px;"><span class="td" style="left:9px;top:9px">K</span><span class="td" style="left:115px;top:9px">Kappa</span><span class="td" style="right:10px;top:9px">0.81</span></div>
    <div class="row b" style="top:33px;height:33px;"><span class="td" style="left:9px;top:9px">K3</span><span class="td" style="left:115px;top:9px">3-class Kappa</span><span class="td" style="right:10px;top:9px">0.86</span></div>
    <div class="row g b" style="top:67px;height:33px;"><span class="td" style="left:9px;top:8px">ACC</span><span class="td" style="left:115px;top:8px">Accuracy</span><span class="td" style="right:10px;top:8px">0.87</span></div>
    <div class="row b" style="top:100px;height:33px;"><span class="td" style="left:9px;top:9px">ACC3</span><span class="td" style="left:115px;top:9px">3-class Accuracy</span><span class="td" style="right:10px;top:9px">0.92</span></div>
    <div class="row g b" style="top:134px;height:33px;"><span class="td" style="left:9px;top:9px">MCC</span><span class="td" style="left:115px;top:9px">Matthews correlation coefficient</span><span class="td" style="right:10px;top:9px">0.81</span></div>
    <div class="row b" style="top:168px;height:33px;"><span class="td" style="left:9px;top:9px">MCC3</span><span class="td" style="left:115px;top:9px">3-class Matthews correlation coefficient</span><span class="td" style="right:10px;top:9px">0.86</span></div>
  </div>
  <div class="bline"></div>
  <div class="copy" style="left:0"><span class="t">Copy</span></div>
</div>

<div class="tbl" style="left:635px;width:565px;height:260px;">
  <div class="th" style="left:17px;">Stage</div>
  <div class="th" style="left:180px;letter-spacing:-0.2px;">Obs.duration(m)</div>
  <div class="th" style="left:376px;letter-spacing:-0.17px;">Pred.duration(m)</div>
  <div class="th" style="right:17px;">F1</div>
  <svg class="sort" style="left:88px" viewBox="0 0 9 15"><path d="M4.5 0.6 L8.4 7 L0.6 7Z M4.5 14.8 L8.4 8 L0.6 8Z" fill="#dcdcdc"/></svg>
  <svg class="sort" style="left:282px" viewBox="0 0 9 15"><path d="M4.5 0.6 L8.4 7 L0.6 7Z M4.5 14.8 L8.4 8 L0.6 8Z" fill="#dcdcdc"/></svg>
  <svg class="sort" style="left:481px" viewBox="0 0 9 15"><path d="M4.5 0.6 L8.4 7 L0.6 7Z M4.5 14.8 L8.4 8 L0.6 8Z" fill="#dcdcdc"/></svg>
  <svg class="sort" style="left:552px" viewBox="0 0 9 15"><path d="M4.5 0.6 L8.4 7 L0.6 7Z M4.5 14.8 L8.4 8 L0.6 8Z" fill="#dcdcdc"/></svg>
  <div class="hline"></div>
  <div class="clip">
    <div class="row g" style="top:0;height:33px;"><span class="td" style="left:9px;top:9px">N1</span><span class="td" style="right:279px;top:9px">5.5</span><span class="td" style="right:80px;top:9px">10.52</span><span class="td" style="right:10px;top:9px">0.47</span></div>
    <div class="row b" style="top:33px;height:33px;"><span class="td" style="left:9px;top:9px">N2</span><span class="td" style="right:279px;top:9px">199.5</span><span class="td" style="right:80px;top:9px">178.21</span><span class="td" style="right:10px;top:9px">0.82</span></div>
    <div class="row g b" style="top:67px;height:33px;"><span class="td" style="left:9px;top:8px">N3</span><span class="td" style="right:279px;top:8px">92.5</span><span class="td" style="right:80px;top:8px">103.52</span><span class="td" style="right:10px;top:8px">0.85</span></div>
    <div class="row b" style="top:100px;height:33px;"><span class="td" style="left:9px;top:9px">R</span><span class="td" style="right:279px;top:9px">60</span><span class="td" style="right:80px;top:9px">71.76</span><span class="td" style="right:10px;top:9px">0.71</span></div>
    <div class="row g b" style="top:134px;height:33px;"><span class="td" style="left:9px;top:9px">W</span><span class="td" style="right:279px;top:9px">240</span><span class="td" style="right:80px;top:9px">233.49</span><span class="td" style="right:10px;top:9px">0.96</span></div>
  </div>
  <div class="bline"></div>
  <div class="copy" style="left:0"><span class="t">Copy</span></div>
</div>
</body></html>
